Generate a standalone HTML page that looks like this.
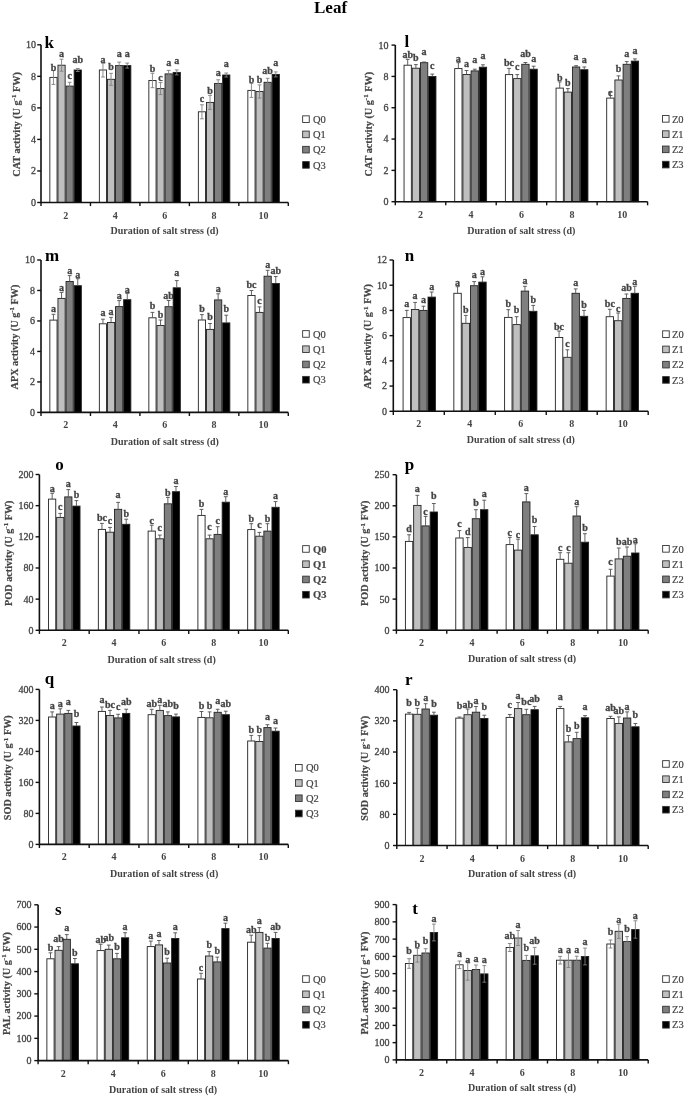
<!DOCTYPE html>
<html><head><meta charset="utf-8"><title>Leaf</title><style>
html,body{margin:0;padding:0;background:#fff;}
body{width:685px;height:1097px;overflow:hidden;}
svg{display:block;filter:grayscale(1);}
text{font-family:"Liberation Serif",serif;fill:#333;}
.sl{font-size:10px;font-weight:bold;text-anchor:middle;fill:#444;stroke:#444;stroke-width:0.3px;}
.yt{font-size:10px;text-anchor:end;fill:#444;stroke:#444;stroke-width:0.3px;}
.xt{font-size:10px;font-weight:bold;text-anchor:middle;fill:#444;}
.xl{font-size:10px;font-weight:bold;text-anchor:middle;fill:#444;}
.yl{font-size:10.2px;font-weight:bold;text-anchor:middle;fill:#444;stroke:#444;stroke-width:0.2px;}
.pl{font-size:17px;font-weight:bold;fill:#000;}
.lg{font-size:10.5px;fill:#444;stroke:#444;stroke-width:0.2px;}
.b{font-weight:bold;}
.title{font-size:17px;font-weight:bold;fill:#000;}
</style></head>
<body><svg width="685" height="1097" viewBox="0 0 685 1097">
<rect width="685" height="1097" fill="#fff"/>
<text x="314" y="13.2" class="title">Leaf</text>
<rect x="49.85" y="77.4" width="7.2" height="125.1" fill="#ffffff" stroke="#222" stroke-width="0.9"/>
<path d="M53.45 70.4V84.4M51.55 70.4H55.35" stroke="#808080" stroke-width="0.9" fill="none"/>
<path d="M51.55 84.4H55.35" stroke="#808080" stroke-width="0.9"/>
<text x="53.45" y="70.7" class="sl">b</text>
<rect x="57.95" y="65.2" width="7.2" height="137.3" fill="#bfbfbf" stroke="#222" stroke-width="0.9"/>
<path d="M61.55 59.2V71.2M59.65 59.2H63.45" stroke="#808080" stroke-width="0.9" fill="none"/>
<path d="M59.65 71.2H63.45" stroke="#808080" stroke-width="0.9"/>
<text x="61.55" y="57" class="sl">a</text>
<rect x="66.05" y="86.1" width="7.2" height="116.4" fill="#7f7f7f" stroke="#222" stroke-width="0.9"/>
<path d="M69.65 82.3V89.9M67.75 82.3H71.55" stroke="#808080" stroke-width="0.9" fill="none"/>
<path d="M67.75 89.9H71.55" stroke="#808080" stroke-width="0.9"/>
<text x="69.65" y="78.9" class="sl">c</text>
<rect x="74.15" y="70" width="7.2" height="132.5" fill="#000000" stroke="#222" stroke-width="0.9"/>
<path d="M77.75 68.5V71.5M75.85 68.5H79.65" stroke="#808080" stroke-width="0.9" fill="none"/>
<path d="M75.85 71.5H79.65" stroke="#808080" stroke-width="0.9"/>
<text x="77.75" y="62.6" class="sl">ab</text>
<rect x="99.35" y="70" width="7.2" height="132.5" fill="#ffffff" stroke="#222" stroke-width="0.9"/>
<path d="M102.95 63V77M101.05 63H104.85" stroke="#808080" stroke-width="0.9" fill="none"/>
<path d="M101.05 77H104.85" stroke="#808080" stroke-width="0.9"/>
<text x="102.95" y="62.6" class="sl">a</text>
<rect x="107.45" y="79.3" width="7.2" height="123.2" fill="#bfbfbf" stroke="#222" stroke-width="0.9"/>
<path d="M111.05 73.3V85.3M109.15 73.3H112.95" stroke="#808080" stroke-width="0.9" fill="none"/>
<path d="M109.15 85.3H112.95" stroke="#808080" stroke-width="0.9"/>
<text x="111.05" y="70.1" class="sl">b</text>
<rect x="115.55" y="65.6" width="7.2" height="136.9" fill="#7f7f7f" stroke="#222" stroke-width="0.9"/>
<path d="M119.15 62.1V69.1M117.25 62.1H121.05" stroke="#808080" stroke-width="0.9" fill="none"/>
<path d="M117.25 69.1H121.05" stroke="#808080" stroke-width="0.9"/>
<text x="119.15" y="57.4" class="sl">a</text>
<rect x="123.65" y="65.6" width="7.2" height="136.9" fill="#000000" stroke="#222" stroke-width="0.9"/>
<path d="M127.25 63.1V68.1M125.35 63.1H129.15" stroke="#808080" stroke-width="0.9" fill="none"/>
<path d="M125.35 68.1H129.15" stroke="#808080" stroke-width="0.9"/>
<text x="127.25" y="57" class="sl">a</text>
<rect x="148.85" y="80.5" width="7.2" height="122" fill="#ffffff" stroke="#222" stroke-width="0.9"/>
<path d="M152.45 73.3V87.7M150.55 73.3H154.35" stroke="#808080" stroke-width="0.9" fill="none"/>
<path d="M150.55 87.7H154.35" stroke="#808080" stroke-width="0.9"/>
<text x="152.45" y="72.1" class="sl">b</text>
<rect x="156.95" y="88.6" width="7.2" height="113.9" fill="#bfbfbf" stroke="#222" stroke-width="0.9"/>
<path d="M160.55 82.6V94.6M158.65 82.6H162.45" stroke="#808080" stroke-width="0.9" fill="none"/>
<path d="M158.65 94.6H162.45" stroke="#808080" stroke-width="0.9"/>
<text x="160.55" y="81.3" class="sl">c</text>
<rect x="165.05" y="73.9" width="7.2" height="128.6" fill="#7f7f7f" stroke="#222" stroke-width="0.9"/>
<path d="M168.65 70.4V77.4M166.75 70.4H170.55" stroke="#808080" stroke-width="0.9" fill="none"/>
<path d="M166.75 77.4H170.55" stroke="#808080" stroke-width="0.9"/>
<text x="168.65" y="66.3" class="sl">a</text>
<rect x="173.15" y="72.4" width="7.2" height="130.1" fill="#000000" stroke="#222" stroke-width="0.9"/>
<path d="M176.75 69.9V74.9M174.85 69.9H178.65" stroke="#808080" stroke-width="0.9" fill="none"/>
<path d="M174.85 74.9H178.65" stroke="#808080" stroke-width="0.9"/>
<text x="176.75" y="63.9" class="sl">a</text>
<rect x="198.35" y="111.8" width="7.2" height="90.7" fill="#ffffff" stroke="#222" stroke-width="0.9"/>
<path d="M201.95 104.8V118.8M200.05 104.8H203.85" stroke="#808080" stroke-width="0.9" fill="none"/>
<path d="M200.05 118.8H203.85" stroke="#808080" stroke-width="0.9"/>
<text x="201.95" y="102.1" class="sl">c</text>
<rect x="206.45" y="102.4" width="7.2" height="100.1" fill="#bfbfbf" stroke="#222" stroke-width="0.9"/>
<path d="M210.05 95.4V109.4M208.15 95.4H211.95" stroke="#808080" stroke-width="0.9" fill="none"/>
<path d="M208.15 109.4H211.95" stroke="#808080" stroke-width="0.9"/>
<text x="210.05" y="93.5" class="sl">b</text>
<rect x="214.55" y="83.4" width="7.2" height="119.1" fill="#7f7f7f" stroke="#222" stroke-width="0.9"/>
<path d="M218.15 79.8V87M216.25 79.8H220.05" stroke="#808080" stroke-width="0.9" fill="none"/>
<path d="M216.25 87H220.05" stroke="#808080" stroke-width="0.9"/>
<text x="218.15" y="76.2" class="sl">a</text>
<rect x="222.65" y="75" width="7.2" height="127.5" fill="#000000" stroke="#222" stroke-width="0.9"/>
<path d="M226.25 73V77M224.35 73H228.15" stroke="#808080" stroke-width="0.9" fill="none"/>
<path d="M224.35 77H228.15" stroke="#808080" stroke-width="0.9"/>
<text x="226.25" y="67.4" class="sl">a</text>
<rect x="247.85" y="90.4" width="7.2" height="112.1" fill="#ffffff" stroke="#222" stroke-width="0.9"/>
<path d="M251.45 83.4V97.4M249.55 83.4H253.35" stroke="#808080" stroke-width="0.9" fill="none"/>
<path d="M249.55 97.4H253.35" stroke="#808080" stroke-width="0.9"/>
<text x="251.45" y="82.7" class="sl">b</text>
<rect x="255.95" y="91.5" width="7.2" height="111" fill="#bfbfbf" stroke="#222" stroke-width="0.9"/>
<path d="M259.55 84.9V98.1M257.65 84.9H261.45" stroke="#808080" stroke-width="0.9" fill="none"/>
<path d="M257.65 98.1H261.45" stroke="#808080" stroke-width="0.9"/>
<text x="259.55" y="82.7" class="sl">b</text>
<rect x="264.05" y="82.3" width="7.2" height="120.2" fill="#7f7f7f" stroke="#222" stroke-width="0.9"/>
<path d="M267.65 78.3V86.3M265.75 78.3H269.55" stroke="#808080" stroke-width="0.9" fill="none"/>
<path d="M265.75 86.3H269.55" stroke="#808080" stroke-width="0.9"/>
<text x="267.65" y="74.1" class="sl">ab</text>
<rect x="272.15" y="74.4" width="7.2" height="128.1" fill="#000000" stroke="#222" stroke-width="0.9"/>
<path d="M275.75 71.9V76.9M273.85 71.9H277.65" stroke="#808080" stroke-width="0.9" fill="none"/>
<path d="M273.85 76.9H277.65" stroke="#808080" stroke-width="0.9"/>
<text x="275.75" y="65.9" class="sl">a</text>
<path d="M41 44.8V202.5H288.3" stroke="#111" stroke-width="1.6" fill="none"/>
<path d="M37.2 202.5H41" stroke="#111" stroke-width="1.4"/>
<text x="35.9" y="205.9" class="yt">0</text>
<path d="M37.2 170.96H41" stroke="#111" stroke-width="1.4"/>
<text x="35.9" y="174.36" class="yt">2</text>
<path d="M37.2 139.42H41" stroke="#111" stroke-width="1.4"/>
<text x="35.9" y="142.82" class="yt">4</text>
<path d="M37.2 107.88H41" stroke="#111" stroke-width="1.4"/>
<text x="35.9" y="111.28" class="yt">6</text>
<path d="M37.2 76.34H41" stroke="#111" stroke-width="1.4"/>
<text x="35.9" y="79.74" class="yt">8</text>
<path d="M37.2 44.8H41" stroke="#111" stroke-width="1.4"/>
<text x="35.9" y="48.2" class="yt">10</text>
<path d="M41 202.5V206.1" stroke="#111" stroke-width="1.4"/>
<path d="M90.46 202.5V206.1" stroke="#111" stroke-width="1.4"/>
<path d="M139.92 202.5V206.1" stroke="#111" stroke-width="1.4"/>
<path d="M189.38 202.5V206.1" stroke="#111" stroke-width="1.4"/>
<path d="M238.84 202.5V206.1" stroke="#111" stroke-width="1.4"/>
<path d="M288.3 202.5V206.1" stroke="#111" stroke-width="1.4"/>
<text x="65.73" y="218.5" class="xt">2</text>
<text x="115.19" y="218.5" class="xt">4</text>
<text x="164.65" y="218.5" class="xt">6</text>
<text x="214.11" y="218.5" class="xt">8</text>
<text x="263.57" y="218.5" class="xt">10</text>
<text x="164.55" y="233.6" class="xl">Duration of salt stress (d)</text>
<text transform="translate(19.9 124.45) rotate(-90)" class="yl">CAT activity (U g<tspan dy="-3.6" font-size="7">-1</tspan><tspan dy="3.5"> FW)</tspan></text>
<text x="44.6" y="48.3" class="pl">k</text>
<rect x="302.65" y="115.85" width="6.6" height="6.6" fill="#ffffff" stroke="#333" stroke-width="0.9"/>
<text x="313" y="122.8" class="lg">Q0</text>
<rect x="302.65" y="131.1" width="6.6" height="6.6" fill="#bfbfbf" stroke="#333" stroke-width="0.9"/>
<text x="313" y="138.05" class="lg">Q1</text>
<rect x="302.65" y="146.35" width="6.6" height="6.6" fill="#7f7f7f" stroke="#333" stroke-width="0.9"/>
<text x="313" y="153.3" class="lg">Q2</text>
<rect x="302.65" y="161.6" width="6.6" height="6.6" fill="#000000" stroke="#333" stroke-width="0.9"/>
<text x="313" y="168.55" class="lg">Q3</text>
<rect x="404.05" y="65.2" width="7.3" height="136.5" fill="#ffffff" stroke="#222" stroke-width="0.9"/>
<path d="M407.7 59.3V65.2M405.8 59.3H409.6" stroke="#505050" stroke-width="0.9" fill="none"/>
<text x="407.7" y="58.2" class="sl">ab</text>
<rect x="412.25" y="68.2" width="7.3" height="133.5" fill="#bfbfbf" stroke="#222" stroke-width="0.9"/>
<path d="M415.9 64.6V68.2M414 64.6H417.8" stroke="#505050" stroke-width="0.9" fill="none"/>
<text x="415.9" y="60.6" class="sl">b</text>
<rect x="420.45" y="62.7" width="7.3" height="139" fill="#7f7f7f" stroke="#222" stroke-width="0.9"/>
<path d="M424.1 62V62.7M422.2 62H426" stroke="#505050" stroke-width="0.9" fill="none"/>
<text x="424.1" y="55.4" class="sl">a</text>
<rect x="428.65" y="76.5" width="7.3" height="125.2" fill="#000000" stroke="#222" stroke-width="0.9"/>
<path d="M432.3 74.1V76.5M430.4 74.1H434.2" stroke="#505050" stroke-width="0.9" fill="none"/>
<text x="432.3" y="68.7" class="sl">c</text>
<rect x="454.71" y="68.6" width="7.3" height="133.1" fill="#ffffff" stroke="#222" stroke-width="0.9"/>
<path d="M458.36 62.7V68.6M456.46 62.7H460.26" stroke="#505050" stroke-width="0.9" fill="none"/>
<text x="458.36" y="61.7" class="sl">a</text>
<rect x="462.91" y="74.5" width="7.3" height="127.2" fill="#bfbfbf" stroke="#222" stroke-width="0.9"/>
<path d="M466.56 70.5V74.5M464.66 70.5H468.46" stroke="#505050" stroke-width="0.9" fill="none"/>
<text x="466.56" y="66.9" class="sl">a</text>
<rect x="471.11" y="70.9" width="7.3" height="130.8" fill="#7f7f7f" stroke="#222" stroke-width="0.9"/>
<path d="M474.76 69.2V70.9M472.86 69.2H476.66" stroke="#505050" stroke-width="0.9" fill="none"/>
<text x="474.76" y="62.9" class="sl">a</text>
<rect x="479.31" y="67.2" width="7.3" height="134.5" fill="#000000" stroke="#222" stroke-width="0.9"/>
<path d="M482.96 64.8V67.2M481.06 64.8H484.86" stroke="#505050" stroke-width="0.9" fill="none"/>
<text x="482.96" y="59.4" class="sl">a</text>
<rect x="505.38" y="74.6" width="7.3" height="127.1" fill="#ffffff" stroke="#222" stroke-width="0.9"/>
<path d="M509.03 68.4V74.6M507.13 68.4H510.93" stroke="#505050" stroke-width="0.9" fill="none"/>
<text x="509.03" y="66.2" class="sl">bc</text>
<rect x="513.58" y="78.6" width="7.3" height="123.1" fill="#bfbfbf" stroke="#222" stroke-width="0.9"/>
<path d="M517.23 74.6V78.6M515.33 74.6H519.13" stroke="#505050" stroke-width="0.9" fill="none"/>
<text x="517.23" y="70" class="sl">c</text>
<rect x="521.78" y="64.3" width="7.3" height="137.4" fill="#7f7f7f" stroke="#222" stroke-width="0.9"/>
<path d="M525.43 62.5V64.3M523.53 62.5H527.33" stroke="#505050" stroke-width="0.9" fill="none"/>
<text x="525.43" y="56.6" class="sl">ab</text>
<rect x="529.98" y="69.2" width="7.3" height="132.5" fill="#000000" stroke="#222" stroke-width="0.9"/>
<path d="M533.63 66.2V69.2M531.73 66.2H535.53" stroke="#505050" stroke-width="0.9" fill="none"/>
<text x="533.63" y="61.5" class="sl">a</text>
<rect x="556.04" y="88.1" width="7.3" height="113.6" fill="#ffffff" stroke="#222" stroke-width="0.9"/>
<path d="M559.69 81.9V88.1M557.79 81.9H561.59" stroke="#505050" stroke-width="0.9" fill="none"/>
<text x="559.69" y="80.6" class="sl">b</text>
<rect x="564.24" y="92.1" width="7.3" height="109.6" fill="#bfbfbf" stroke="#222" stroke-width="0.9"/>
<path d="M567.89 88.6V92.1M565.99 88.6H569.79" stroke="#505050" stroke-width="0.9" fill="none"/>
<text x="567.89" y="85.9" class="sl">b</text>
<rect x="572.44" y="67" width="7.3" height="134.7" fill="#7f7f7f" stroke="#222" stroke-width="0.9"/>
<path d="M576.09 65.7V67M574.19 65.7H577.99" stroke="#505050" stroke-width="0.9" fill="none"/>
<text x="576.09" y="59.8" class="sl">a</text>
<rect x="580.64" y="69.7" width="7.3" height="132" fill="#000000" stroke="#222" stroke-width="0.9"/>
<path d="M584.29 67V69.7M582.39 67H586.19" stroke="#505050" stroke-width="0.9" fill="none"/>
<text x="584.29" y="63" class="sl">a</text>
<rect x="606.7" y="98.1" width="7.3" height="103.6" fill="#ffffff" stroke="#222" stroke-width="0.9"/>
<path d="M610.35 92.1V98.1M608.45 92.1H612.25" stroke="#505050" stroke-width="0.9" fill="none"/>
<text x="610.35" y="95.5" class="sl">c</text>
<rect x="614.9" y="80" width="7.3" height="121.7" fill="#bfbfbf" stroke="#222" stroke-width="0.9"/>
<path d="M618.55 75.9V80M616.65 75.9H620.45" stroke="#505050" stroke-width="0.9" fill="none"/>
<text x="618.55" y="72.1" class="sl">b</text>
<rect x="623.1" y="64.3" width="7.3" height="137.4" fill="#7f7f7f" stroke="#222" stroke-width="0.9"/>
<path d="M626.75 61.6V64.3M624.85 61.6H628.65" stroke="#505050" stroke-width="0.9" fill="none"/>
<text x="626.75" y="56.6" class="sl">a</text>
<rect x="631.3" y="61.1" width="7.3" height="140.6" fill="#000000" stroke="#222" stroke-width="0.9"/>
<path d="M634.95 58.9V61.1M633.05 58.9H636.85" stroke="#505050" stroke-width="0.9" fill="none"/>
<text x="634.95" y="53.5" class="sl">a</text>
<path d="M395.3 45.1V201.7H647.6" stroke="#111" stroke-width="1.6" fill="none"/>
<path d="M391.5 201.7H395.3" stroke="#111" stroke-width="1.4"/>
<text x="388.4" y="205.1" class="yt">0</text>
<path d="M391.5 170.38H395.3" stroke="#111" stroke-width="1.4"/>
<text x="388.4" y="173.78" class="yt">2</text>
<path d="M391.5 139.06H395.3" stroke="#111" stroke-width="1.4"/>
<text x="388.4" y="142.46" class="yt">4</text>
<path d="M391.5 107.74H395.3" stroke="#111" stroke-width="1.4"/>
<text x="388.4" y="111.14" class="yt">6</text>
<path d="M391.5 76.42H395.3" stroke="#111" stroke-width="1.4"/>
<text x="388.4" y="79.82" class="yt">8</text>
<path d="M391.5 45.1H395.3" stroke="#111" stroke-width="1.4"/>
<text x="388.4" y="48.5" class="yt">10</text>
<path d="M395.3 201.7V205.3" stroke="#111" stroke-width="1.4"/>
<path d="M445.76 201.7V205.3" stroke="#111" stroke-width="1.4"/>
<path d="M496.22 201.7V205.3" stroke="#111" stroke-width="1.4"/>
<path d="M546.68 201.7V205.3" stroke="#111" stroke-width="1.4"/>
<path d="M597.14 201.7V205.3" stroke="#111" stroke-width="1.4"/>
<path d="M647.6 201.7V205.3" stroke="#111" stroke-width="1.4"/>
<text x="420.53" y="217.7" class="xt">2</text>
<text x="470.99" y="217.7" class="xt">4</text>
<text x="521.45" y="217.7" class="xt">6</text>
<text x="571.91" y="217.7" class="xt">8</text>
<text x="622.37" y="217.7" class="xt">10</text>
<text x="521.25" y="233.6" class="xl">Duration of salt stress (d)</text>
<text transform="translate(371.9 124.2) rotate(-90)" class="yl">CAT activity (U g<tspan dy="-3.6" font-size="7">-1</tspan><tspan dy="3.5"> FW)</tspan></text>
<text x="404.5" y="47.1" class="pl">l</text>
<rect x="662.45" y="115.55" width="6.6" height="6.6" fill="#ffffff" stroke="#333" stroke-width="0.9"/>
<text x="671.9" y="122.5" class="lg">Z0</text>
<rect x="662.45" y="130.8" width="6.6" height="6.6" fill="#bfbfbf" stroke="#333" stroke-width="0.9"/>
<text x="671.9" y="137.75" class="lg">Z1</text>
<rect x="662.45" y="146.05" width="6.6" height="6.6" fill="#7f7f7f" stroke="#333" stroke-width="0.9"/>
<text x="671.9" y="153" class="lg">Z2</text>
<rect x="662.45" y="161.3" width="6.6" height="6.6" fill="#000000" stroke="#333" stroke-width="0.9"/>
<text x="671.9" y="168.25" class="lg">Z3</text>
<rect x="49.85" y="320.1" width="7.2" height="92.3" fill="#ffffff" stroke="#222" stroke-width="0.9"/>
<path d="M53.45 314.3V320.1M51.55 314.3H55.35" stroke="#505050" stroke-width="0.9" fill="none"/>
<text x="53.45" y="311.9" class="sl">a</text>
<rect x="57.95" y="298.4" width="7.2" height="114" fill="#bfbfbf" stroke="#222" stroke-width="0.9"/>
<path d="M61.55 292.4V298.4M59.65 292.4H63.45" stroke="#505050" stroke-width="0.9" fill="none"/>
<text x="61.55" y="290.9" class="sl">a</text>
<rect x="66.05" y="281.5" width="7.2" height="130.9" fill="#7f7f7f" stroke="#222" stroke-width="0.9"/>
<path d="M69.65 275.6V281.5M67.75 275.6H71.55" stroke="#505050" stroke-width="0.9" fill="none"/>
<text x="69.65" y="273.9" class="sl">a</text>
<rect x="74.15" y="285.7" width="7.2" height="126.7" fill="#000000" stroke="#222" stroke-width="0.9"/>
<path d="M77.75 278.7V285.7M75.85 278.7H79.65" stroke="#505050" stroke-width="0.9" fill="none"/>
<text x="77.75" y="277.8" class="sl">a</text>
<rect x="99.35" y="323.8" width="7.2" height="88.6" fill="#ffffff" stroke="#222" stroke-width="0.9"/>
<path d="M102.95 319.2V323.8M101.05 319.2H104.85" stroke="#505050" stroke-width="0.9" fill="none"/>
<text x="102.95" y="316.3" class="sl">a</text>
<rect x="107.45" y="322.5" width="7.2" height="89.9" fill="#bfbfbf" stroke="#222" stroke-width="0.9"/>
<path d="M111.05 317.4V322.5M109.15 317.4H112.95" stroke="#505050" stroke-width="0.9" fill="none"/>
<text x="111.05" y="314.6" class="sl">a</text>
<rect x="115.55" y="306.6" width="7.2" height="105.8" fill="#7f7f7f" stroke="#222" stroke-width="0.9"/>
<path d="M119.15 300.6V306.6M117.25 300.6H121.05" stroke="#505050" stroke-width="0.9" fill="none"/>
<text x="119.15" y="298.8" class="sl">a</text>
<rect x="123.65" y="299.7" width="7.2" height="112.7" fill="#000000" stroke="#222" stroke-width="0.9"/>
<path d="M127.25 293.3V299.7M125.35 293.3H129.15" stroke="#505050" stroke-width="0.9" fill="none"/>
<text x="127.25" y="292.7" class="sl">a</text>
<rect x="148.85" y="317.8" width="7.2" height="94.6" fill="#ffffff" stroke="#222" stroke-width="0.9"/>
<path d="M152.45 312.4V317.8M150.55 312.4H154.35" stroke="#505050" stroke-width="0.9" fill="none"/>
<text x="152.45" y="309" class="sl">b</text>
<rect x="156.95" y="325.5" width="7.2" height="86.9" fill="#bfbfbf" stroke="#222" stroke-width="0.9"/>
<path d="M160.55 320V325.5M158.65 320H162.45" stroke="#505050" stroke-width="0.9" fill="none"/>
<text x="160.55" y="318.2" class="sl">b</text>
<rect x="165.05" y="306.7" width="7.2" height="105.7" fill="#7f7f7f" stroke="#222" stroke-width="0.9"/>
<path d="M168.65 300.5V306.7M166.75 300.5H170.55" stroke="#505050" stroke-width="0.9" fill="none"/>
<text x="168.65" y="298.8" class="sl">ab</text>
<rect x="173.15" y="287.8" width="7.2" height="124.6" fill="#000000" stroke="#222" stroke-width="0.9"/>
<path d="M176.75 280.6V287.8M174.85 280.6H178.65" stroke="#505050" stroke-width="0.9" fill="none"/>
<text x="176.75" y="275.9" class="sl">a</text>
<rect x="198.35" y="320" width="7.2" height="92.4" fill="#ffffff" stroke="#222" stroke-width="0.9"/>
<path d="M201.95 314.6V320M200.05 314.6H203.85" stroke="#505050" stroke-width="0.9" fill="none"/>
<text x="201.95" y="312.1" class="sl">b</text>
<rect x="206.45" y="329.4" width="7.2" height="83" fill="#bfbfbf" stroke="#222" stroke-width="0.9"/>
<path d="M210.05 323.5V329.4M208.15 323.5H211.95" stroke="#505050" stroke-width="0.9" fill="none"/>
<text x="210.05" y="320.2" class="sl">b</text>
<rect x="214.55" y="299.9" width="7.2" height="112.5" fill="#7f7f7f" stroke="#222" stroke-width="0.9"/>
<path d="M218.15 293.8V299.9M216.25 293.8H220.05" stroke="#505050" stroke-width="0.9" fill="none"/>
<text x="218.15" y="291.6" class="sl">a</text>
<rect x="222.65" y="322.9" width="7.2" height="89.5" fill="#000000" stroke="#222" stroke-width="0.9"/>
<path d="M226.25 315.2V322.9M224.35 315.2H228.15" stroke="#505050" stroke-width="0.9" fill="none"/>
<text x="226.25" y="312.1" class="sl">b</text>
<rect x="247.85" y="295.5" width="7.2" height="116.9" fill="#ffffff" stroke="#222" stroke-width="0.9"/>
<path d="M251.45 290.5V295.5M249.55 290.5H253.35" stroke="#505050" stroke-width="0.9" fill="none"/>
<text x="251.45" y="288.2" class="sl">bc</text>
<rect x="255.95" y="312.4" width="7.2" height="100" fill="#bfbfbf" stroke="#222" stroke-width="0.9"/>
<path d="M259.55 306.9V312.4M257.65 306.9H261.45" stroke="#505050" stroke-width="0.9" fill="none"/>
<text x="259.55" y="303.9" class="sl">c</text>
<rect x="264.05" y="276.2" width="7.2" height="136.2" fill="#7f7f7f" stroke="#222" stroke-width="0.9"/>
<path d="M267.65 270.3V276.2M265.75 270.3H269.55" stroke="#505050" stroke-width="0.9" fill="none"/>
<text x="267.65" y="268.1" class="sl">a</text>
<rect x="272.15" y="283.5" width="7.2" height="128.9" fill="#000000" stroke="#222" stroke-width="0.9"/>
<path d="M275.75 276.5V283.5M273.85 276.5H277.65" stroke="#505050" stroke-width="0.9" fill="none"/>
<text x="275.75" y="273.9" class="sl">ab</text>
<path d="M41 260V412.4H288.3" stroke="#111" stroke-width="1.6" fill="none"/>
<path d="M37.2 412.4H41" stroke="#111" stroke-width="1.4"/>
<text x="35.1" y="415.8" class="yt">0</text>
<path d="M37.2 381.92H41" stroke="#111" stroke-width="1.4"/>
<text x="35.1" y="385.32" class="yt">2</text>
<path d="M37.2 351.44H41" stroke="#111" stroke-width="1.4"/>
<text x="35.1" y="354.84" class="yt">4</text>
<path d="M37.2 320.96H41" stroke="#111" stroke-width="1.4"/>
<text x="35.1" y="324.36" class="yt">6</text>
<path d="M37.2 290.48H41" stroke="#111" stroke-width="1.4"/>
<text x="35.1" y="293.88" class="yt">8</text>
<path d="M37.2 260H41" stroke="#111" stroke-width="1.4"/>
<text x="35.1" y="263.4" class="yt">10</text>
<path d="M41 412.4V416" stroke="#111" stroke-width="1.4"/>
<path d="M90.46 412.4V416" stroke="#111" stroke-width="1.4"/>
<path d="M139.92 412.4V416" stroke="#111" stroke-width="1.4"/>
<path d="M189.38 412.4V416" stroke="#111" stroke-width="1.4"/>
<path d="M238.84 412.4V416" stroke="#111" stroke-width="1.4"/>
<path d="M288.3 412.4V416" stroke="#111" stroke-width="1.4"/>
<text x="65.73" y="428.4" class="xt">2</text>
<text x="115.19" y="428.4" class="xt">4</text>
<text x="164.65" y="428.4" class="xt">6</text>
<text x="214.11" y="428.4" class="xt">8</text>
<text x="263.57" y="428.4" class="xt">10</text>
<text x="164.8" y="444.6" class="xl">Duration of salt stress (d)</text>
<text transform="translate(17.7 337) rotate(-90)" class="yl">APX activity (U g<tspan dy="-3.6" font-size="7">-1</tspan><tspan dy="3.5"> FW)</tspan></text>
<text x="44.9" y="260.7" class="pl">m</text>
<rect x="302.65" y="330.65" width="6.6" height="6.6" fill="#ffffff" stroke="#333" stroke-width="0.9"/>
<text x="313" y="337.6" class="lg">Q0</text>
<rect x="302.65" y="345.9" width="6.6" height="6.6" fill="#bfbfbf" stroke="#333" stroke-width="0.9"/>
<text x="313" y="352.85" class="lg">Q1</text>
<rect x="302.65" y="361.15" width="6.6" height="6.6" fill="#7f7f7f" stroke="#333" stroke-width="0.9"/>
<text x="313" y="368.1" class="lg">Q2</text>
<rect x="302.65" y="376.4" width="6.6" height="6.6" fill="#000000" stroke="#333" stroke-width="0.9"/>
<text x="313" y="383.35" class="lg">Q3</text>
<rect x="403.08" y="317.6" width="7.41" height="93.7" fill="#ffffff" stroke="#222" stroke-width="0.9"/>
<path d="M406.78 310.4V317.6M404.88 310.4H408.68" stroke="#505050" stroke-width="0.9" fill="none"/>
<text x="406.78" y="306.7" class="sl">a</text>
<rect x="411.39" y="309.5" width="7.41" height="101.8" fill="#bfbfbf" stroke="#222" stroke-width="0.9"/>
<path d="M415.09 302.4V309.5M413.19 302.4H416.99" stroke="#505050" stroke-width="0.9" fill="none"/>
<text x="415.09" y="299.2" class="sl">a</text>
<rect x="419.7" y="310.4" width="7.41" height="100.9" fill="#7f7f7f" stroke="#222" stroke-width="0.9"/>
<path d="M423.4 306.2V310.4M421.5 306.2H425.3" stroke="#505050" stroke-width="0.9" fill="none"/>
<text x="423.4" y="302.7" class="sl">a</text>
<rect x="428.01" y="297.1" width="7.41" height="114.2" fill="#000000" stroke="#222" stroke-width="0.9"/>
<path d="M431.71 292V297.1M429.81 292H433.61" stroke="#505050" stroke-width="0.9" fill="none"/>
<text x="431.71" y="289.5" class="sl">a</text>
<rect x="453.84" y="293.3" width="7.41" height="118" fill="#ffffff" stroke="#222" stroke-width="0.9"/>
<path d="M457.55 286.7V293.3M455.65 286.7H459.45" stroke="#505050" stroke-width="0.9" fill="none"/>
<text x="457.55" y="285.7" class="sl">a</text>
<rect x="462.15" y="323.3" width="7.41" height="88" fill="#bfbfbf" stroke="#222" stroke-width="0.9"/>
<path d="M465.86 315.4V323.3M463.96 315.4H467.76" stroke="#505050" stroke-width="0.9" fill="none"/>
<text x="465.86" y="312.7" class="sl">b</text>
<rect x="470.46" y="285.7" width="7.41" height="125.6" fill="#7f7f7f" stroke="#222" stroke-width="0.9"/>
<path d="M474.17 281.6V285.7M472.27 281.6H476.07" stroke="#505050" stroke-width="0.9" fill="none"/>
<text x="474.17" y="278.1" class="sl">a</text>
<rect x="478.77" y="282.1" width="7.41" height="129.2" fill="#000000" stroke="#222" stroke-width="0.9"/>
<path d="M482.48 276.8V282.1M480.58 276.8H484.38" stroke="#505050" stroke-width="0.9" fill="none"/>
<text x="482.48" y="274.6" class="sl">a</text>
<rect x="504.6" y="317.4" width="7.41" height="93.9" fill="#ffffff" stroke="#222" stroke-width="0.9"/>
<path d="M508.31 309.7V317.4M506.41 309.7H510.21" stroke="#505050" stroke-width="0.9" fill="none"/>
<text x="508.31" y="307.3" class="sl">b</text>
<rect x="512.91" y="324.6" width="7.41" height="86.7" fill="#bfbfbf" stroke="#222" stroke-width="0.9"/>
<path d="M516.62 316.7V324.6M514.72 316.7H518.52" stroke="#505050" stroke-width="0.9" fill="none"/>
<text x="516.62" y="313.3" class="sl">b</text>
<rect x="521.23" y="291.1" width="7.41" height="120.2" fill="#7f7f7f" stroke="#222" stroke-width="0.9"/>
<path d="M524.93 286.3V291.1M523.03 286.3H526.83" stroke="#505050" stroke-width="0.9" fill="none"/>
<text x="524.93" y="283.6" class="sl">a</text>
<rect x="529.53" y="311.3" width="7.41" height="100" fill="#000000" stroke="#222" stroke-width="0.9"/>
<path d="M533.24 305.4V311.3M531.34 305.4H535.14" stroke="#505050" stroke-width="0.9" fill="none"/>
<text x="533.24" y="303.1" class="sl">b</text>
<rect x="555.37" y="337.5" width="7.41" height="73.8" fill="#ffffff" stroke="#222" stroke-width="0.9"/>
<path d="M559.07 331V337.5M557.17 331H560.97" stroke="#505050" stroke-width="0.9" fill="none"/>
<text x="559.07" y="329.6" class="sl">bc</text>
<rect x="563.68" y="357.3" width="7.41" height="54" fill="#bfbfbf" stroke="#222" stroke-width="0.9"/>
<path d="M567.38 349.8V357.3M565.48 349.8H569.28" stroke="#505050" stroke-width="0.9" fill="none"/>
<text x="567.38" y="346.5" class="sl">c</text>
<rect x="571.99" y="293.3" width="7.41" height="118" fill="#7f7f7f" stroke="#222" stroke-width="0.9"/>
<path d="M575.69 288.9V293.3M573.79 288.9H577.59" stroke="#505050" stroke-width="0.9" fill="none"/>
<text x="575.69" y="285.7" class="sl">a</text>
<rect x="580.3" y="316.3" width="7.41" height="95" fill="#000000" stroke="#222" stroke-width="0.9"/>
<path d="M584 310.4V316.3M582.1 310.4H585.9" stroke="#505050" stroke-width="0.9" fill="none"/>
<text x="584" y="308.4" class="sl">b</text>
<rect x="606.13" y="316.7" width="7.41" height="94.6" fill="#ffffff" stroke="#222" stroke-width="0.9"/>
<path d="M609.83 309.3V316.7M607.93 309.3H611.73" stroke="#505050" stroke-width="0.9" fill="none"/>
<text x="609.83" y="307.3" class="sl">bc</text>
<rect x="614.44" y="320.7" width="7.41" height="90.6" fill="#bfbfbf" stroke="#222" stroke-width="0.9"/>
<path d="M618.14 313V320.7M616.24 313H620.04" stroke="#505050" stroke-width="0.9" fill="none"/>
<text x="618.14" y="312" class="sl">c</text>
<rect x="622.75" y="298.4" width="7.41" height="112.9" fill="#7f7f7f" stroke="#222" stroke-width="0.9"/>
<path d="M626.45 294V298.4M624.55 294H628.35" stroke="#505050" stroke-width="0.9" fill="none"/>
<text x="626.45" y="290.8" class="sl">ab</text>
<rect x="631.06" y="293.3" width="7.41" height="118" fill="#000000" stroke="#222" stroke-width="0.9"/>
<path d="M634.76 286.3V293.3M632.86 286.3H636.66" stroke="#505050" stroke-width="0.9" fill="none"/>
<text x="634.76" y="284.5" class="sl">a</text>
<path d="M393.3 260V411.3H648.2" stroke="#111" stroke-width="1.6" fill="none"/>
<path d="M389.5 411.3H393.3" stroke="#111" stroke-width="1.4"/>
<text x="386.9" y="414.7" class="yt">0</text>
<path d="M389.5 386.08H393.3" stroke="#111" stroke-width="1.4"/>
<text x="386.9" y="389.48" class="yt">2</text>
<path d="M389.5 360.87H393.3" stroke="#111" stroke-width="1.4"/>
<text x="386.9" y="364.27" class="yt">4</text>
<path d="M389.5 335.65H393.3" stroke="#111" stroke-width="1.4"/>
<text x="386.9" y="339.05" class="yt">6</text>
<path d="M389.5 310.43H393.3" stroke="#111" stroke-width="1.4"/>
<text x="386.9" y="313.83" class="yt">8</text>
<path d="M389.5 285.22H393.3" stroke="#111" stroke-width="1.4"/>
<text x="386.9" y="288.62" class="yt">10</text>
<path d="M389.5 260H393.3" stroke="#111" stroke-width="1.4"/>
<text x="386.9" y="263.4" class="yt">12</text>
<path d="M393.3 411.3V414.9" stroke="#111" stroke-width="1.4"/>
<path d="M444.28 411.3V414.9" stroke="#111" stroke-width="1.4"/>
<path d="M495.26 411.3V414.9" stroke="#111" stroke-width="1.4"/>
<path d="M546.24 411.3V414.9" stroke="#111" stroke-width="1.4"/>
<path d="M597.22 411.3V414.9" stroke="#111" stroke-width="1.4"/>
<path d="M648.2 411.3V414.9" stroke="#111" stroke-width="1.4"/>
<text x="418.79" y="427.3" class="xt">2</text>
<text x="469.77" y="427.3" class="xt">4</text>
<text x="520.75" y="427.3" class="xt">6</text>
<text x="571.73" y="427.3" class="xt">8</text>
<text x="622.71" y="427.3" class="xt">10</text>
<text x="520.75" y="443.2" class="xl">Duration of salt stress (d)</text>
<text transform="translate(371.2 336.45) rotate(-90)" class="yl">APX activity (U g<tspan dy="-3.6" font-size="7">-1</tspan><tspan dy="3.5"> FW)</tspan></text>
<text x="404.7" y="261" class="pl">n</text>
<rect x="662.65" y="330.85" width="6.6" height="6.6" fill="#ffffff" stroke="#333" stroke-width="0.9"/>
<text x="672.1" y="337.8" class="lg">Z0</text>
<rect x="662.65" y="346.1" width="6.6" height="6.6" fill="#bfbfbf" stroke="#333" stroke-width="0.9"/>
<text x="672.1" y="353.05" class="lg">Z1</text>
<rect x="662.65" y="361.35" width="6.6" height="6.6" fill="#7f7f7f" stroke="#333" stroke-width="0.9"/>
<text x="672.1" y="368.3" class="lg">Z2</text>
<rect x="662.65" y="376.6" width="6.6" height="6.6" fill="#000000" stroke="#333" stroke-width="0.9"/>
<text x="672.1" y="383.55" class="lg">Z3</text>
<rect x="48.56" y="499.1" width="7.19" height="131.2" fill="#ffffff" stroke="#222" stroke-width="0.9"/>
<path d="M52.16 493.3V499.1M50.26 493.3H54.06" stroke="#505050" stroke-width="0.9" fill="none"/>
<text x="52.16" y="491.7" class="sl">a</text>
<rect x="56.65" y="517.4" width="7.19" height="112.9" fill="#bfbfbf" stroke="#222" stroke-width="0.9"/>
<path d="M60.25 513.4V517.4M58.35 513.4H62.15" stroke="#505050" stroke-width="0.9" fill="none"/>
<text x="60.25" y="509.5" class="sl">c</text>
<rect x="64.74" y="496.9" width="7.19" height="133.4" fill="#7f7f7f" stroke="#222" stroke-width="0.9"/>
<path d="M68.33 489.6V496.9M66.43 489.6H70.23" stroke="#505050" stroke-width="0.9" fill="none"/>
<text x="68.33" y="487.1" class="sl">a</text>
<rect x="72.83" y="506.1" width="7.19" height="124.2" fill="#000000" stroke="#222" stroke-width="0.9"/>
<path d="M76.42 500.6V506.1M74.52 500.6H78.32" stroke="#505050" stroke-width="0.9" fill="none"/>
<text x="76.42" y="497.6" class="sl">b</text>
<rect x="98.34" y="529.4" width="7.19" height="100.9" fill="#ffffff" stroke="#222" stroke-width="0.9"/>
<path d="M101.94 523.4V529.4M100.04 523.4H103.84" stroke="#505050" stroke-width="0.9" fill="none"/>
<text x="101.94" y="520.9" class="sl">bc</text>
<rect x="106.43" y="532.2" width="7.19" height="98.1" fill="#bfbfbf" stroke="#222" stroke-width="0.9"/>
<path d="M110.03 527.4V532.2M108.13 527.4H111.93" stroke="#505050" stroke-width="0.9" fill="none"/>
<text x="110.03" y="523.9" class="sl">c</text>
<rect x="114.52" y="509.3" width="7.19" height="121" fill="#7f7f7f" stroke="#222" stroke-width="0.9"/>
<path d="M118.11 502.4V509.3M116.21 502.4H120.01" stroke="#505050" stroke-width="0.9" fill="none"/>
<text x="118.11" y="498.1" class="sl">a</text>
<rect x="122.61" y="524.3" width="7.19" height="106" fill="#000000" stroke="#222" stroke-width="0.9"/>
<path d="M126.2 519.2V524.3M124.3 519.2H128.1" stroke="#505050" stroke-width="0.9" fill="none"/>
<text x="126.2" y="516.5" class="sl">b</text>
<rect x="148.12" y="531.1" width="7.19" height="99.2" fill="#ffffff" stroke="#222" stroke-width="0.9"/>
<path d="M151.72 525.2V531.1M149.82 525.2H153.62" stroke="#505050" stroke-width="0.9" fill="none"/>
<text x="151.72" y="524" class="sl">c</text>
<rect x="156.21" y="538.8" width="7.19" height="91.5" fill="#bfbfbf" stroke="#222" stroke-width="0.9"/>
<path d="M159.81 535.1V538.8M157.91 535.1H161.71" stroke="#505050" stroke-width="0.9" fill="none"/>
<text x="159.81" y="530.7" class="sl">c</text>
<rect x="164.3" y="503.8" width="7.19" height="126.5" fill="#7f7f7f" stroke="#222" stroke-width="0.9"/>
<path d="M167.89 497.4V503.8M165.99 497.4H169.79" stroke="#505050" stroke-width="0.9" fill="none"/>
<text x="167.89" y="496" class="sl">b</text>
<rect x="172.39" y="491.7" width="7.19" height="138.6" fill="#000000" stroke="#222" stroke-width="0.9"/>
<path d="M175.98 486.5V491.7M174.08 486.5H177.88" stroke="#505050" stroke-width="0.9" fill="none"/>
<text x="175.98" y="483.7" class="sl">a</text>
<rect x="197.9" y="515.4" width="7.19" height="114.9" fill="#ffffff" stroke="#222" stroke-width="0.9"/>
<path d="M201.5 509.4V515.4M199.6 509.4H203.4" stroke="#505050" stroke-width="0.9" fill="none"/>
<text x="201.5" y="507" class="sl">b</text>
<rect x="205.99" y="538.8" width="7.19" height="91.5" fill="#bfbfbf" stroke="#222" stroke-width="0.9"/>
<path d="M209.59 535.1V538.8M207.69 535.1H211.49" stroke="#505050" stroke-width="0.9" fill="none"/>
<text x="209.59" y="530.1" class="sl">c</text>
<rect x="214.08" y="534.4" width="7.19" height="95.9" fill="#7f7f7f" stroke="#222" stroke-width="0.9"/>
<path d="M217.67 526.7V534.4M215.77 526.7H219.57" stroke="#505050" stroke-width="0.9" fill="none"/>
<text x="217.67" y="524" class="sl">c</text>
<rect x="222.17" y="502.2" width="7.19" height="128.1" fill="#000000" stroke="#222" stroke-width="0.9"/>
<path d="M225.76 496.7V502.2M223.86 496.7H227.66" stroke="#505050" stroke-width="0.9" fill="none"/>
<text x="225.76" y="494.8" class="sl">a</text>
<rect x="247.68" y="529.6" width="7.19" height="100.7" fill="#ffffff" stroke="#222" stroke-width="0.9"/>
<path d="M251.28 523.7V529.6M249.38 523.7H253.18" stroke="#505050" stroke-width="0.9" fill="none"/>
<text x="251.28" y="521.5" class="sl">b</text>
<rect x="255.77" y="536.2" width="7.19" height="94.1" fill="#bfbfbf" stroke="#222" stroke-width="0.9"/>
<path d="M259.37 532.4V536.2M257.47 532.4H261.27" stroke="#505050" stroke-width="0.9" fill="none"/>
<text x="259.37" y="528.1" class="sl">c</text>
<rect x="263.86" y="531.1" width="7.19" height="99.2" fill="#7f7f7f" stroke="#222" stroke-width="0.9"/>
<path d="M267.45 523.7V531.1M265.55 523.7H269.35" stroke="#505050" stroke-width="0.9" fill="none"/>
<text x="267.45" y="521.5" class="sl">b</text>
<rect x="271.95" y="507.3" width="7.19" height="123" fill="#000000" stroke="#222" stroke-width="0.9"/>
<path d="M275.54 501.6V507.3M273.64 501.6H277.44" stroke="#505050" stroke-width="0.9" fill="none"/>
<text x="275.54" y="498.8" class="sl">a</text>
<path d="M39.4 474.5V630.3H288.3" stroke="#111" stroke-width="1.6" fill="none"/>
<path d="M35.6 630.3H39.4" stroke="#111" stroke-width="1.4"/>
<text x="33.5" y="633.7" class="yt">0</text>
<path d="M35.6 599.14H39.4" stroke="#111" stroke-width="1.4"/>
<text x="33.5" y="602.54" class="yt">40</text>
<path d="M35.6 567.98H39.4" stroke="#111" stroke-width="1.4"/>
<text x="33.5" y="571.38" class="yt">80</text>
<path d="M35.6 536.82H39.4" stroke="#111" stroke-width="1.4"/>
<text x="33.5" y="540.22" class="yt">120</text>
<path d="M35.6 505.66H39.4" stroke="#111" stroke-width="1.4"/>
<text x="33.5" y="509.06" class="yt">160</text>
<path d="M35.6 474.5H39.4" stroke="#111" stroke-width="1.4"/>
<text x="33.5" y="477.9" class="yt">200</text>
<path d="M39.4 630.3V633.9" stroke="#111" stroke-width="1.4"/>
<path d="M89.18 630.3V633.9" stroke="#111" stroke-width="1.4"/>
<path d="M138.96 630.3V633.9" stroke="#111" stroke-width="1.4"/>
<path d="M188.74 630.3V633.9" stroke="#111" stroke-width="1.4"/>
<path d="M238.52 630.3V633.9" stroke="#111" stroke-width="1.4"/>
<path d="M288.3 630.3V633.9" stroke="#111" stroke-width="1.4"/>
<text x="64.29" y="646.3" class="xt">2</text>
<text x="114.07" y="646.3" class="xt">4</text>
<text x="163.85" y="646.3" class="xt">6</text>
<text x="213.63" y="646.3" class="xt">8</text>
<text x="263.41" y="646.3" class="xt">10</text>
<text x="161.65" y="662.7" class="xl">Duration of salt stress (d)</text>
<text transform="translate(11.7 553.2) rotate(-90)" class="yl">POD activity (U g<tspan dy="-3.6" font-size="7">-1</tspan><tspan dy="3.5"> FW)</tspan></text>
<text x="55.2" y="469.7" class="pl">o</text>
<rect x="302.65" y="545.65" width="6.6" height="6.6" fill="#ffffff" stroke="#333" stroke-width="0.9"/>
<text x="313" y="552.6" class="lg b">Q0</text>
<rect x="302.65" y="560.9" width="6.6" height="6.6" fill="#bfbfbf" stroke="#333" stroke-width="0.9"/>
<text x="313" y="567.85" class="lg b">Q1</text>
<rect x="302.65" y="576.15" width="6.6" height="6.6" fill="#7f7f7f" stroke="#333" stroke-width="0.9"/>
<text x="313" y="583.1" class="lg b">Q2</text>
<rect x="302.65" y="591.4" width="6.6" height="6.6" fill="#000000" stroke="#333" stroke-width="0.9"/>
<text x="313" y="598.35" class="lg b">Q3</text>
<rect x="405.4" y="541.4" width="7.35" height="88.8" fill="#ffffff" stroke="#222" stroke-width="0.9"/>
<path d="M409.07 534.8V541.4M407.18 534.8H410.97" stroke="#505050" stroke-width="0.9" fill="none"/>
<text x="409.07" y="532.3" class="sl">d</text>
<rect x="413.65" y="505.4" width="7.35" height="124.8" fill="#bfbfbf" stroke="#222" stroke-width="0.9"/>
<path d="M417.32 495.3V505.4M415.43 495.3H419.22" stroke="#505050" stroke-width="0.9" fill="none"/>
<text x="417.32" y="492.4" class="sl">a</text>
<rect x="421.9" y="525.9" width="7.35" height="104.3" fill="#7f7f7f" stroke="#222" stroke-width="0.9"/>
<path d="M425.57 516.4V525.9M423.68 516.4H427.47" stroke="#505050" stroke-width="0.9" fill="none"/>
<text x="425.57" y="514.8" class="sl">c</text>
<rect x="430.15" y="512" width="7.35" height="118.2" fill="#000000" stroke="#222" stroke-width="0.9"/>
<path d="M433.82 503.5V512M431.93 503.5H435.72" stroke="#505050" stroke-width="0.9" fill="none"/>
<text x="433.82" y="499.4" class="sl">b</text>
<rect x="455.76" y="538" width="7.35" height="92.2" fill="#ffffff" stroke="#222" stroke-width="0.9"/>
<path d="M459.44 530.6V538M457.54 530.6H461.34" stroke="#505050" stroke-width="0.9" fill="none"/>
<text x="459.44" y="526.7" class="sl">c</text>
<rect x="464.01" y="547.5" width="7.35" height="82.7" fill="#bfbfbf" stroke="#222" stroke-width="0.9"/>
<path d="M467.69 537.6V547.5M465.79 537.6H469.59" stroke="#505050" stroke-width="0.9" fill="none"/>
<text x="467.69" y="534.9" class="sl">d</text>
<rect x="472.26" y="518.7" width="7.35" height="111.5" fill="#7f7f7f" stroke="#222" stroke-width="0.9"/>
<path d="M475.94 509.7V518.7M474.04 509.7H477.84" stroke="#505050" stroke-width="0.9" fill="none"/>
<text x="475.94" y="506" class="sl">b</text>
<rect x="480.51" y="509.7" width="7.35" height="120.5" fill="#000000" stroke="#222" stroke-width="0.9"/>
<path d="M484.19 500.2V509.7M482.29 500.2H486.09" stroke="#505050" stroke-width="0.9" fill="none"/>
<text x="484.19" y="497.3" class="sl">a</text>
<rect x="506.12" y="544.6" width="7.35" height="85.6" fill="#ffffff" stroke="#222" stroke-width="0.9"/>
<path d="M509.8 537.4V544.6M507.9 537.4H511.7" stroke="#505050" stroke-width="0.9" fill="none"/>
<text x="509.8" y="535.8" class="sl">c</text>
<rect x="514.38" y="550.1" width="7.35" height="80.1" fill="#bfbfbf" stroke="#222" stroke-width="0.9"/>
<path d="M518.05 539.2V550.1M516.15 539.2H519.95" stroke="#505050" stroke-width="0.9" fill="none"/>
<text x="518.05" y="537.5" class="sl">c</text>
<rect x="522.62" y="501.9" width="7.35" height="128.3" fill="#7f7f7f" stroke="#222" stroke-width="0.9"/>
<path d="M526.3 493.6V501.9M524.4 493.6H528.2" stroke="#505050" stroke-width="0.9" fill="none"/>
<text x="526.3" y="491.4" class="sl">a</text>
<rect x="530.88" y="534.8" width="7.35" height="95.4" fill="#000000" stroke="#222" stroke-width="0.9"/>
<path d="M534.55 526.5V534.8M532.65 526.5H536.45" stroke="#505050" stroke-width="0.9" fill="none"/>
<text x="534.55" y="523.1" class="sl">b</text>
<rect x="556.49" y="559.3" width="7.35" height="70.9" fill="#ffffff" stroke="#222" stroke-width="0.9"/>
<path d="M560.16 552.7V559.3M558.26 552.7H562.06" stroke="#505050" stroke-width="0.9" fill="none"/>
<text x="560.16" y="550.6" class="sl">c</text>
<rect x="564.74" y="563.2" width="7.35" height="67" fill="#bfbfbf" stroke="#222" stroke-width="0.9"/>
<path d="M568.41 552.7V563.2M566.51 552.7H570.31" stroke="#505050" stroke-width="0.9" fill="none"/>
<text x="568.41" y="551" class="sl">c</text>
<rect x="572.99" y="516" width="7.35" height="114.2" fill="#7f7f7f" stroke="#222" stroke-width="0.9"/>
<path d="M576.66 506.7V516M574.76 506.7H578.56" stroke="#505050" stroke-width="0.9" fill="none"/>
<text x="576.66" y="505.1" class="sl">a</text>
<rect x="581.24" y="542.2" width="7.35" height="88" fill="#000000" stroke="#222" stroke-width="0.9"/>
<path d="M584.91 533.7V542.2M583.01 533.7H586.81" stroke="#505050" stroke-width="0.9" fill="none"/>
<text x="584.91" y="530.5" class="sl">b</text>
<rect x="606.85" y="576.1" width="7.35" height="54.1" fill="#ffffff" stroke="#222" stroke-width="0.9"/>
<path d="M610.52 569.3V576.1M608.62 569.3H612.42" stroke="#505050" stroke-width="0.9" fill="none"/>
<text x="610.52" y="565.4" class="sl">c</text>
<rect x="615.1" y="558.9" width="7.35" height="71.3" fill="#bfbfbf" stroke="#222" stroke-width="0.9"/>
<path d="M618.77 548V558.9M616.88 548H620.67" stroke="#505050" stroke-width="0.9" fill="none"/>
<text x="618.77" y="545.3" class="sl">b</text>
<rect x="623.35" y="556.2" width="7.35" height="74" fill="#7f7f7f" stroke="#222" stroke-width="0.9"/>
<path d="M627.02 547V556.2M625.12 547H628.92" stroke="#505050" stroke-width="0.9" fill="none"/>
<text x="627.02" y="544.7" class="sl">ab</text>
<rect x="631.6" y="553" width="7.35" height="77.2" fill="#000000" stroke="#222" stroke-width="0.9"/>
<path d="M635.27 543.8V553M633.38 543.8H637.17" stroke="#505050" stroke-width="0.9" fill="none"/>
<text x="635.27" y="542.6" class="sl">a</text>
<path d="M396.4 474.7V630.2H648.2" stroke="#111" stroke-width="1.6" fill="none"/>
<path d="M392.6 630.2H396.4" stroke="#111" stroke-width="1.4"/>
<text x="389.5" y="633.6" class="yt">0</text>
<path d="M392.6 599.1H396.4" stroke="#111" stroke-width="1.4"/>
<text x="389.5" y="602.5" class="yt">50</text>
<path d="M392.6 568H396.4" stroke="#111" stroke-width="1.4"/>
<text x="389.5" y="571.4" class="yt">100</text>
<path d="M392.6 536.9H396.4" stroke="#111" stroke-width="1.4"/>
<text x="389.5" y="540.3" class="yt">150</text>
<path d="M392.6 505.8H396.4" stroke="#111" stroke-width="1.4"/>
<text x="389.5" y="509.2" class="yt">200</text>
<path d="M392.6 474.7H396.4" stroke="#111" stroke-width="1.4"/>
<text x="389.5" y="478.1" class="yt">250</text>
<path d="M396.4 630.2V633.8" stroke="#111" stroke-width="1.4"/>
<path d="M446.76 630.2V633.8" stroke="#111" stroke-width="1.4"/>
<path d="M497.12 630.2V633.8" stroke="#111" stroke-width="1.4"/>
<path d="M547.48 630.2V633.8" stroke="#111" stroke-width="1.4"/>
<path d="M597.84 630.2V633.8" stroke="#111" stroke-width="1.4"/>
<path d="M648.2 630.2V633.8" stroke="#111" stroke-width="1.4"/>
<text x="421.58" y="646.2" class="xt">2</text>
<text x="471.94" y="646.2" class="xt">4</text>
<text x="522.3" y="646.2" class="xt">6</text>
<text x="572.66" y="646.2" class="xt">8</text>
<text x="623.02" y="646.2" class="xt">10</text>
<text x="522" y="662.3" class="xl">Duration of salt stress (d)</text>
<text transform="translate(368.2 553.25) rotate(-90)" class="yl">POD activity (U g<tspan dy="-3.6" font-size="7">-1</tspan><tspan dy="3.5"> FW)</tspan></text>
<text x="404.7" y="469.5" class="pl">p</text>
<rect x="662.65" y="545.55" width="6.6" height="6.6" fill="#ffffff" stroke="#333" stroke-width="0.9"/>
<text x="672.1" y="552.5" class="lg">Z0</text>
<rect x="662.65" y="560.8" width="6.6" height="6.6" fill="#bfbfbf" stroke="#333" stroke-width="0.9"/>
<text x="672.1" y="567.75" class="lg">Z1</text>
<rect x="662.65" y="576.05" width="6.6" height="6.6" fill="#7f7f7f" stroke="#333" stroke-width="0.9"/>
<text x="672.1" y="583" class="lg">Z2</text>
<rect x="662.65" y="591.3" width="6.6" height="6.6" fill="#000000" stroke="#333" stroke-width="0.9"/>
<text x="672.1" y="598.25" class="lg">Z3</text>
<rect x="48.56" y="717" width="7.19" height="127.4" fill="#ffffff" stroke="#222" stroke-width="0.9"/>
<path d="M52.16 711.9V717M50.26 711.9H54.06" stroke="#505050" stroke-width="0.9" fill="none"/>
<text x="52.16" y="709.3" class="sl">a</text>
<rect x="56.65" y="714.1" width="7.19" height="130.3" fill="#bfbfbf" stroke="#222" stroke-width="0.9"/>
<path d="M60.25 708.8V714.1M58.35 708.8H62.15" stroke="#505050" stroke-width="0.9" fill="none"/>
<text x="60.25" y="706.6" class="sl">a</text>
<rect x="64.74" y="713.4" width="7.19" height="131" fill="#7f7f7f" stroke="#222" stroke-width="0.9"/>
<path d="M68.33 710.4V713.4M66.43 710.4H70.23" stroke="#505050" stroke-width="0.9" fill="none"/>
<text x="68.33" y="704.9" class="sl">a</text>
<rect x="72.83" y="726" width="7.19" height="118.4" fill="#000000" stroke="#222" stroke-width="0.9"/>
<path d="M76.42 722.5V726M74.52 722.5H78.32" stroke="#505050" stroke-width="0.9" fill="none"/>
<text x="76.42" y="717.2" class="sl">b</text>
<rect x="98.34" y="711.4" width="7.19" height="133" fill="#ffffff" stroke="#222" stroke-width="0.9"/>
<path d="M101.94 707V711.4M100.04 707H103.84" stroke="#505050" stroke-width="0.9" fill="none"/>
<text x="101.94" y="703.1" class="sl">a</text>
<rect x="106.43" y="715.5" width="7.19" height="128.9" fill="#bfbfbf" stroke="#222" stroke-width="0.9"/>
<path d="M110.03 710.4V715.5M108.13 710.4H111.93" stroke="#505050" stroke-width="0.9" fill="none"/>
<text x="110.03" y="708.4" class="sl">bc</text>
<rect x="114.52" y="717.9" width="7.19" height="126.5" fill="#7f7f7f" stroke="#222" stroke-width="0.9"/>
<path d="M118.11 714.3V717.9M116.21 714.3H120.01" stroke="#505050" stroke-width="0.9" fill="none"/>
<text x="118.11" y="709.6" class="sl">c</text>
<rect x="122.61" y="713.4" width="7.19" height="131" fill="#000000" stroke="#222" stroke-width="0.9"/>
<path d="M126.2 709.2V713.4M124.3 709.2H128.1" stroke="#505050" stroke-width="0.9" fill="none"/>
<text x="126.2" y="704.9" class="sl">ab</text>
<rect x="148.12" y="714.7" width="7.19" height="129.7" fill="#ffffff" stroke="#222" stroke-width="0.9"/>
<path d="M151.72 709.3V714.7M149.82 709.3H153.62" stroke="#505050" stroke-width="0.9" fill="none"/>
<text x="151.72" y="707.4" class="sl">ab</text>
<rect x="156.21" y="710.4" width="7.19" height="134" fill="#bfbfbf" stroke="#222" stroke-width="0.9"/>
<path d="M159.81 705.3V710.4M157.91 705.3H161.71" stroke="#505050" stroke-width="0.9" fill="none"/>
<text x="159.81" y="702.7" class="sl">a</text>
<rect x="164.3" y="715.6" width="7.19" height="128.8" fill="#7f7f7f" stroke="#222" stroke-width="0.9"/>
<path d="M167.89 711.9V715.6M165.99 711.9H169.79" stroke="#505050" stroke-width="0.9" fill="none"/>
<text x="167.89" y="707.4" class="sl">ab</text>
<rect x="172.39" y="716.9" width="7.19" height="127.5" fill="#000000" stroke="#222" stroke-width="0.9"/>
<path d="M175.98 714.1V716.9M174.08 714.1H177.88" stroke="#505050" stroke-width="0.9" fill="none"/>
<text x="175.98" y="708.8" class="sl">b</text>
<rect x="197.9" y="717.4" width="7.19" height="127" fill="#ffffff" stroke="#222" stroke-width="0.9"/>
<path d="M201.5 711.5V717.4M199.6 711.5H203.4" stroke="#505050" stroke-width="0.9" fill="none"/>
<text x="201.5" y="708.8" class="sl">b</text>
<rect x="205.99" y="717.8" width="7.19" height="126.6" fill="#bfbfbf" stroke="#222" stroke-width="0.9"/>
<path d="M209.59 711.9V717.8M207.69 711.9H211.49" stroke="#505050" stroke-width="0.9" fill="none"/>
<text x="209.59" y="709.4" class="sl">b</text>
<rect x="214.08" y="712.3" width="7.19" height="132.1" fill="#7f7f7f" stroke="#222" stroke-width="0.9"/>
<path d="M217.67 709.3V712.3M215.77 709.3H219.57" stroke="#505050" stroke-width="0.9" fill="none"/>
<text x="217.67" y="703.9" class="sl">a</text>
<rect x="222.17" y="714.7" width="7.19" height="129.7" fill="#000000" stroke="#222" stroke-width="0.9"/>
<path d="M225.76 711.2V714.7M223.86 711.2H227.66" stroke="#505050" stroke-width="0.9" fill="none"/>
<text x="225.76" y="706.8" class="sl">ab</text>
<rect x="247.68" y="741" width="7.19" height="103.4" fill="#ffffff" stroke="#222" stroke-width="0.9"/>
<path d="M251.28 735.4V741M249.38 735.4H253.18" stroke="#505050" stroke-width="0.9" fill="none"/>
<text x="251.28" y="732.9" class="sl">b</text>
<rect x="255.77" y="741.5" width="7.19" height="102.9" fill="#bfbfbf" stroke="#222" stroke-width="0.9"/>
<path d="M259.37 735.6V741.5M257.47 735.6H261.27" stroke="#505050" stroke-width="0.9" fill="none"/>
<text x="259.37" y="732.9" class="sl">b</text>
<rect x="263.86" y="727.6" width="7.19" height="116.8" fill="#7f7f7f" stroke="#222" stroke-width="0.9"/>
<path d="M267.45 724.7V727.6M265.55 724.7H269.35" stroke="#505050" stroke-width="0.9" fill="none"/>
<text x="267.45" y="720.2" class="sl">a</text>
<rect x="271.95" y="731.2" width="7.19" height="113.2" fill="#000000" stroke="#222" stroke-width="0.9"/>
<path d="M275.54 728V731.2M273.64 728H277.44" stroke="#505050" stroke-width="0.9" fill="none"/>
<text x="275.54" y="723.7" class="sl">a</text>
<path d="M39.4 689.4V844.4H288.3" stroke="#111" stroke-width="1.6" fill="none"/>
<path d="M35.6 844.4H39.4" stroke="#111" stroke-width="1.4"/>
<text x="33.5" y="847.8" class="yt">0</text>
<path d="M35.6 813.4H39.4" stroke="#111" stroke-width="1.4"/>
<text x="33.5" y="816.8" class="yt">80</text>
<path d="M35.6 782.4H39.4" stroke="#111" stroke-width="1.4"/>
<text x="33.5" y="785.8" class="yt">160</text>
<path d="M35.6 751.4H39.4" stroke="#111" stroke-width="1.4"/>
<text x="33.5" y="754.8" class="yt">240</text>
<path d="M35.6 720.4H39.4" stroke="#111" stroke-width="1.4"/>
<text x="33.5" y="723.8" class="yt">320</text>
<path d="M35.6 689.4H39.4" stroke="#111" stroke-width="1.4"/>
<text x="33.5" y="692.8" class="yt">400</text>
<path d="M39.4 844.4V848" stroke="#111" stroke-width="1.4"/>
<path d="M89.18 844.4V848" stroke="#111" stroke-width="1.4"/>
<path d="M138.96 844.4V848" stroke="#111" stroke-width="1.4"/>
<path d="M188.74 844.4V848" stroke="#111" stroke-width="1.4"/>
<path d="M238.52 844.4V848" stroke="#111" stroke-width="1.4"/>
<path d="M288.3 844.4V848" stroke="#111" stroke-width="1.4"/>
<text x="64.29" y="860.4" class="xt">2</text>
<text x="114.07" y="860.4" class="xt">4</text>
<text x="163.85" y="860.4" class="xt">6</text>
<text x="213.63" y="860.4" class="xt">8</text>
<text x="263.41" y="860.4" class="xt">10</text>
<text x="164.15" y="876.7" class="xl">Duration of salt stress (d)</text>
<text transform="translate(11.2 767.7) rotate(-90)" class="yl">SOD activity (U g<tspan dy="-3.6" font-size="7">-1</tspan><tspan dy="3.5"> FW)</tspan></text>
<text x="44.7" y="684" class="pl">q</text>
<rect x="295.55" y="764.45" width="6.6" height="6.6" fill="#ffffff" stroke="#333" stroke-width="0.9"/>
<text x="305.9" y="771.4" class="lg">Q0</text>
<rect x="295.55" y="779.7" width="6.6" height="6.6" fill="#bfbfbf" stroke="#333" stroke-width="0.9"/>
<text x="305.9" y="786.65" class="lg">Q1</text>
<rect x="295.55" y="794.95" width="6.6" height="6.6" fill="#7f7f7f" stroke="#333" stroke-width="0.9"/>
<text x="305.9" y="801.9" class="lg">Q2</text>
<rect x="295.55" y="810.2" width="6.6" height="6.6" fill="#000000" stroke="#333" stroke-width="0.9"/>
<text x="305.9" y="817.15" class="lg">Q3</text>
<rect x="405.39" y="714.1" width="7.38" height="131.4" fill="#ffffff" stroke="#222" stroke-width="0.9"/>
<path d="M409.08 712.4V714.1M407.18 712.4H410.98" stroke="#505050" stroke-width="0.9" fill="none"/>
<text x="409.08" y="706.1" class="sl">b</text>
<rect x="413.67" y="714.3" width="7.38" height="131.2" fill="#bfbfbf" stroke="#222" stroke-width="0.9"/>
<path d="M417.36 708.4V714.3M415.46 708.4H419.26" stroke="#505050" stroke-width="0.9" fill="none"/>
<text x="417.36" y="706.1" class="sl">b</text>
<rect x="421.95" y="709" width="7.38" height="136.5" fill="#7f7f7f" stroke="#222" stroke-width="0.9"/>
<path d="M425.64 703.7V709M423.74 703.7H427.54" stroke="#505050" stroke-width="0.9" fill="none"/>
<text x="425.64" y="700.5" class="sl">a</text>
<rect x="430.23" y="715.2" width="7.38" height="130.3" fill="#000000" stroke="#222" stroke-width="0.9"/>
<path d="M433.92 712.2V715.2M432.02 712.2H435.82" stroke="#505050" stroke-width="0.9" fill="none"/>
<text x="433.92" y="706.6" class="sl">b</text>
<rect x="455.75" y="718.1" width="7.38" height="127.4" fill="#ffffff" stroke="#222" stroke-width="0.9"/>
<path d="M459.44 717V718.1M457.54 717H461.34" stroke="#505050" stroke-width="0.9" fill="none"/>
<text x="459.44" y="709.3" class="sl">b</text>
<rect x="464.03" y="714.7" width="7.38" height="130.8" fill="#bfbfbf" stroke="#222" stroke-width="0.9"/>
<path d="M467.72 709V714.7M465.82 709H469.62" stroke="#505050" stroke-width="0.9" fill="none"/>
<text x="467.72" y="707.5" class="sl">ab</text>
<rect x="472.31" y="712.2" width="7.38" height="133.3" fill="#7f7f7f" stroke="#222" stroke-width="0.9"/>
<path d="M476 706.5V712.2M474.1 706.5H477.9" stroke="#505050" stroke-width="0.9" fill="none"/>
<text x="476" y="704" class="sl">a</text>
<rect x="480.59" y="718.5" width="7.38" height="127" fill="#000000" stroke="#222" stroke-width="0.9"/>
<path d="M484.28 715.2V718.5M482.38 715.2H486.18" stroke="#505050" stroke-width="0.9" fill="none"/>
<text x="484.28" y="709.6" class="sl">b</text>
<rect x="506.12" y="717.4" width="7.38" height="128.1" fill="#ffffff" stroke="#222" stroke-width="0.9"/>
<path d="M509.81 714.5V717.4M507.91 714.5H511.7" stroke="#505050" stroke-width="0.9" fill="none"/>
<text x="509.81" y="708" class="sl">c</text>
<rect x="514.4" y="708.6" width="7.38" height="136.9" fill="#bfbfbf" stroke="#222" stroke-width="0.9"/>
<path d="M518.09 702.5V708.6M516.19 702.5H519.99" stroke="#505050" stroke-width="0.9" fill="none"/>
<text x="518.09" y="698.9" class="sl">a</text>
<rect x="522.68" y="714.7" width="7.38" height="130.8" fill="#7f7f7f" stroke="#222" stroke-width="0.9"/>
<path d="M526.37 709.3V714.7M524.47 709.3H528.26" stroke="#505050" stroke-width="0.9" fill="none"/>
<text x="526.37" y="705.2" class="sl">bc</text>
<rect x="530.96" y="709.7" width="7.38" height="135.8" fill="#000000" stroke="#222" stroke-width="0.9"/>
<path d="M534.64 706.4V709.7M532.75 706.4H536.54" stroke="#505050" stroke-width="0.9" fill="none"/>
<text x="534.64" y="701.6" class="sl">ab</text>
<rect x="556.48" y="708.6" width="7.38" height="136.9" fill="#ffffff" stroke="#222" stroke-width="0.9"/>
<path d="M560.17 706.4V708.6M558.27 706.4H562.07" stroke="#505050" stroke-width="0.9" fill="none"/>
<text x="560.17" y="699.5" class="sl">a</text>
<rect x="564.76" y="741.9" width="7.38" height="103.6" fill="#bfbfbf" stroke="#222" stroke-width="0.9"/>
<path d="M568.45 735.5V741.9M566.55 735.5H570.35" stroke="#505050" stroke-width="0.9" fill="none"/>
<text x="568.45" y="731.9" class="sl">b</text>
<rect x="573.04" y="738.6" width="7.38" height="106.9" fill="#7f7f7f" stroke="#222" stroke-width="0.9"/>
<path d="M576.73 732.3V738.6M574.83 732.3H578.63" stroke="#505050" stroke-width="0.9" fill="none"/>
<text x="576.73" y="729.2" class="sl">b</text>
<rect x="581.32" y="717.8" width="7.38" height="127.7" fill="#000000" stroke="#222" stroke-width="0.9"/>
<path d="M585.01 715.6V717.8M583.11 715.6H586.91" stroke="#505050" stroke-width="0.9" fill="none"/>
<text x="585.01" y="710.1" class="sl">a</text>
<rect x="606.84" y="718.5" width="7.38" height="127" fill="#ffffff" stroke="#222" stroke-width="0.9"/>
<path d="M610.53 716.3V718.5M608.63 716.3H612.43" stroke="#505050" stroke-width="0.9" fill="none"/>
<text x="610.53" y="710.7" class="sl">ab</text>
<rect x="615.12" y="723.5" width="7.38" height="122" fill="#bfbfbf" stroke="#222" stroke-width="0.9"/>
<path d="M618.81 716.9V723.5M616.91 716.9H620.71" stroke="#505050" stroke-width="0.9" fill="none"/>
<text x="618.81" y="713.7" class="sl">ab</text>
<rect x="623.4" y="718" width="7.38" height="127.5" fill="#7f7f7f" stroke="#222" stroke-width="0.9"/>
<path d="M627.09 711.9V718M625.19 711.9H628.99" stroke="#505050" stroke-width="0.9" fill="none"/>
<text x="627.09" y="709.5" class="sl">a</text>
<rect x="631.68" y="726.8" width="7.38" height="118.7" fill="#000000" stroke="#222" stroke-width="0.9"/>
<path d="M635.37 723.5V726.8M633.47 723.5H637.27" stroke="#505050" stroke-width="0.9" fill="none"/>
<text x="635.37" y="717.5" class="sl">b</text>
<path d="M396.8 689.7V845.5H648.2" stroke="#111" stroke-width="1.6" fill="none"/>
<path d="M393 845.5H396.8" stroke="#111" stroke-width="1.4"/>
<text x="389.5" y="848.9" class="yt">0</text>
<path d="M393 814.34H396.8" stroke="#111" stroke-width="1.4"/>
<text x="389.5" y="817.74" class="yt">80</text>
<path d="M393 783.18H396.8" stroke="#111" stroke-width="1.4"/>
<text x="389.5" y="786.58" class="yt">160</text>
<path d="M393 752.02H396.8" stroke="#111" stroke-width="1.4"/>
<text x="389.5" y="755.42" class="yt">240</text>
<path d="M393 720.86H396.8" stroke="#111" stroke-width="1.4"/>
<text x="389.5" y="724.26" class="yt">320</text>
<path d="M393 689.7H396.8" stroke="#111" stroke-width="1.4"/>
<text x="389.5" y="693.1" class="yt">400</text>
<path d="M396.8 845.5V849.1" stroke="#111" stroke-width="1.4"/>
<path d="M447.08 845.5V849.1" stroke="#111" stroke-width="1.4"/>
<path d="M497.36 845.5V849.1" stroke="#111" stroke-width="1.4"/>
<path d="M547.64 845.5V849.1" stroke="#111" stroke-width="1.4"/>
<path d="M597.92 845.5V849.1" stroke="#111" stroke-width="1.4"/>
<path d="M648.2 845.5V849.1" stroke="#111" stroke-width="1.4"/>
<text x="421.94" y="861.5" class="xt">2</text>
<text x="472.22" y="861.5" class="xt">4</text>
<text x="522.5" y="861.5" class="xt">6</text>
<text x="572.78" y="861.5" class="xt">8</text>
<text x="623.06" y="861.5" class="xt">10</text>
<text x="522" y="877.3" class="xl">Duration of salt stress (d)</text>
<text transform="translate(368.2 768.4) rotate(-90)" class="yl">SOD activity (U g<tspan dy="-3.6" font-size="7">-1</tspan><tspan dy="3.5"> FW)</tspan></text>
<text x="404.9" y="684.8" class="pl">r</text>
<rect x="662.65" y="760.65" width="6.6" height="6.6" fill="#ffffff" stroke="#333" stroke-width="0.9"/>
<text x="672.1" y="767.6" class="lg">Z0</text>
<rect x="662.65" y="775.9" width="6.6" height="6.6" fill="#bfbfbf" stroke="#333" stroke-width="0.9"/>
<text x="672.1" y="782.85" class="lg">Z1</text>
<rect x="662.65" y="791.15" width="6.6" height="6.6" fill="#7f7f7f" stroke="#333" stroke-width="0.9"/>
<text x="672.1" y="798.1" class="lg">Z2</text>
<rect x="662.65" y="806.4" width="6.6" height="6.6" fill="#000000" stroke="#333" stroke-width="0.9"/>
<text x="672.1" y="813.35" class="lg">Z3</text>
<rect x="46.88" y="958.8" width="7.23" height="101.8" fill="#ffffff" stroke="#222" stroke-width="0.9"/>
<path d="M50.5 952.8V958.8M48.6 952.8H52.4" stroke="#505050" stroke-width="0.9" fill="none"/>
<text x="50.5" y="950.7" class="sl">b</text>
<rect x="55.02" y="950.3" width="7.23" height="110.3" fill="#bfbfbf" stroke="#222" stroke-width="0.9"/>
<path d="M58.63 946.6V950.3M56.73 946.6H60.53" stroke="#505050" stroke-width="0.9" fill="none"/>
<text x="58.63" y="942.4" class="sl">ab</text>
<rect x="63.15" y="939.3" width="7.23" height="121.3" fill="#7f7f7f" stroke="#222" stroke-width="0.9"/>
<path d="M66.77 934.6V939.3M64.87 934.6H68.67" stroke="#505050" stroke-width="0.9" fill="none"/>
<text x="66.77" y="930.9" class="sl">a</text>
<rect x="71.28" y="963.8" width="7.23" height="96.8" fill="#000000" stroke="#222" stroke-width="0.9"/>
<path d="M74.9 958.5V963.8M73 958.5H76.8" stroke="#505050" stroke-width="0.9" fill="none"/>
<text x="74.9" y="955.9" class="sl">b</text>
<rect x="97.06" y="950.6" width="7.23" height="110" fill="#ffffff" stroke="#222" stroke-width="0.9"/>
<path d="M100.67 944.2V950.6M98.77 944.2H102.57" stroke="#505050" stroke-width="0.9" fill="none"/>
<text x="100.67" y="943.1" class="sl">ab</text>
<rect x="105.19" y="949.3" width="7.23" height="111.3" fill="#bfbfbf" stroke="#222" stroke-width="0.9"/>
<path d="M108.81 945.1V949.3M106.91 945.1H110.71" stroke="#505050" stroke-width="0.9" fill="none"/>
<text x="108.81" y="941.4" class="sl">ab</text>
<rect x="113.33" y="958.8" width="7.23" height="101.8" fill="#7f7f7f" stroke="#222" stroke-width="0.9"/>
<path d="M116.94 953.4V958.8M115.04 953.4H118.84" stroke="#505050" stroke-width="0.9" fill="none"/>
<text x="116.94" y="949.8" class="sl">b</text>
<rect x="121.46" y="937.8" width="7.23" height="122.8" fill="#000000" stroke="#222" stroke-width="0.9"/>
<path d="M125.08 932.7V937.8M123.18 932.7H126.98" stroke="#505050" stroke-width="0.9" fill="none"/>
<text x="125.08" y="930.2" class="sl">a</text>
<rect x="147.23" y="946.6" width="7.23" height="114" fill="#ffffff" stroke="#222" stroke-width="0.9"/>
<path d="M150.85 941.1V946.6M148.95 941.1H152.75" stroke="#505050" stroke-width="0.9" fill="none"/>
<text x="150.85" y="939" class="sl">a</text>
<rect x="155.37" y="944.9" width="7.23" height="115.7" fill="#bfbfbf" stroke="#222" stroke-width="0.9"/>
<path d="M158.98 940.5V944.9M157.08 940.5H160.88" stroke="#505050" stroke-width="0.9" fill="none"/>
<text x="158.98" y="937" class="sl">a</text>
<rect x="163.5" y="963" width="7.23" height="97.6" fill="#7f7f7f" stroke="#222" stroke-width="0.9"/>
<path d="M167.12 958.2V963M165.22 958.2H169.02" stroke="#505050" stroke-width="0.9" fill="none"/>
<text x="167.12" y="955.4" class="sl">b</text>
<rect x="171.63" y="938.5" width="7.23" height="122.1" fill="#000000" stroke="#222" stroke-width="0.9"/>
<path d="M175.25 932.8V938.5M173.35 932.8H177.15" stroke="#505050" stroke-width="0.9" fill="none"/>
<text x="175.25" y="930" class="sl">a</text>
<rect x="197.41" y="979" width="7.23" height="81.6" fill="#ffffff" stroke="#222" stroke-width="0.9"/>
<path d="M201.02 973.3V979M199.12 973.3H202.92" stroke="#505050" stroke-width="0.9" fill="none"/>
<text x="201.02" y="970.9" class="sl">c</text>
<rect x="205.54" y="956" width="7.23" height="104.6" fill="#bfbfbf" stroke="#222" stroke-width="0.9"/>
<path d="M209.16 951.6V956M207.26 951.6H211.06" stroke="#505050" stroke-width="0.9" fill="none"/>
<text x="209.16" y="948.4" class="sl">b</text>
<rect x="213.67" y="961.9" width="7.23" height="98.7" fill="#7f7f7f" stroke="#222" stroke-width="0.9"/>
<path d="M217.29 957.1V961.9M215.39 957.1H219.19" stroke="#505050" stroke-width="0.9" fill="none"/>
<text x="217.29" y="953.9" class="sl">b</text>
<rect x="221.81" y="928.6" width="7.23" height="132" fill="#000000" stroke="#222" stroke-width="0.9"/>
<path d="M225.43 923.2V928.6M223.53 923.2H227.33" stroke="#505050" stroke-width="0.9" fill="none"/>
<text x="225.43" y="921.2" class="sl">a</text>
<rect x="247.58" y="942.2" width="7.23" height="118.4" fill="#ffffff" stroke="#222" stroke-width="0.9"/>
<path d="M251.2 935.2V942.2M249.3 935.2H253.1" stroke="#505050" stroke-width="0.9" fill="none"/>
<text x="251.2" y="933.1" class="sl">ab</text>
<rect x="255.72" y="932.4" width="7.23" height="128.2" fill="#bfbfbf" stroke="#222" stroke-width="0.9"/>
<path d="M259.33 927.6V932.4M257.43 927.6H261.23" stroke="#505050" stroke-width="0.9" fill="none"/>
<text x="259.33" y="924.3" class="sl">a</text>
<rect x="263.85" y="948.1" width="7.23" height="112.5" fill="#7f7f7f" stroke="#222" stroke-width="0.9"/>
<path d="M267.47 943.3V948.1M265.57 943.3H269.37" stroke="#505050" stroke-width="0.9" fill="none"/>
<text x="267.47" y="940.7" class="sl">b</text>
<rect x="271.98" y="938.5" width="7.23" height="122.1" fill="#000000" stroke="#222" stroke-width="0.9"/>
<path d="M275.6 932.4V938.5M273.7 932.4H277.5" stroke="#505050" stroke-width="0.9" fill="none"/>
<text x="275.6" y="930.4" class="sl">ab</text>
<path d="M38.1 904.8V1060.6H288.4" stroke="#111" stroke-width="1.6" fill="none"/>
<path d="M34.3 1060.6H38.1" stroke="#111" stroke-width="1.4"/>
<text x="31.5" y="1064" class="yt">0</text>
<path d="M34.3 1038.34H38.1" stroke="#111" stroke-width="1.4"/>
<text x="31.5" y="1041.74" class="yt">100</text>
<path d="M34.3 1016.09H38.1" stroke="#111" stroke-width="1.4"/>
<text x="31.5" y="1019.49" class="yt">200</text>
<path d="M34.3 993.83H38.1" stroke="#111" stroke-width="1.4"/>
<text x="31.5" y="997.23" class="yt">300</text>
<path d="M34.3 971.57H38.1" stroke="#111" stroke-width="1.4"/>
<text x="31.5" y="974.97" class="yt">400</text>
<path d="M34.3 949.31H38.1" stroke="#111" stroke-width="1.4"/>
<text x="31.5" y="952.71" class="yt">500</text>
<path d="M34.3 927.06H38.1" stroke="#111" stroke-width="1.4"/>
<text x="31.5" y="930.46" class="yt">600</text>
<path d="M34.3 904.8H38.1" stroke="#111" stroke-width="1.4"/>
<text x="31.5" y="908.2" class="yt">700</text>
<path d="M38.1 1060.6V1064.2" stroke="#111" stroke-width="1.4"/>
<path d="M88.16 1060.6V1064.2" stroke="#111" stroke-width="1.4"/>
<path d="M138.22 1060.6V1064.2" stroke="#111" stroke-width="1.4"/>
<path d="M188.28 1060.6V1064.2" stroke="#111" stroke-width="1.4"/>
<path d="M238.34 1060.6V1064.2" stroke="#111" stroke-width="1.4"/>
<path d="M288.4 1060.6V1064.2" stroke="#111" stroke-width="1.4"/>
<text x="63.13" y="1076.6" class="xt">2</text>
<text x="113.19" y="1076.6" class="xt">4</text>
<text x="163.25" y="1076.6" class="xt">6</text>
<text x="213.31" y="1076.6" class="xt">8</text>
<text x="263.37" y="1076.6" class="xt">10</text>
<text x="163.05" y="1092.7" class="xl">Duration of salt stress (d)</text>
<text transform="translate(9.6 983.5) rotate(-90)" class="yl">PAL activity (U g<tspan dy="-3.6" font-size="7">-1</tspan><tspan dy="3.5"> FW)</tspan></text>
<text x="54.9" y="914.5" class="pl">s</text>
<rect x="302.65" y="975.75" width="6.6" height="6.6" fill="#ffffff" stroke="#333" stroke-width="0.9"/>
<text x="313" y="982.7" class="lg">Q0</text>
<rect x="302.65" y="991" width="6.6" height="6.6" fill="#bfbfbf" stroke="#333" stroke-width="0.9"/>
<text x="313" y="997.95" class="lg">Q1</text>
<rect x="302.65" y="1006.25" width="6.6" height="6.6" fill="#7f7f7f" stroke="#333" stroke-width="0.9"/>
<text x="313" y="1013.2" class="lg">Q2</text>
<rect x="302.65" y="1021.5" width="6.6" height="6.6" fill="#000000" stroke="#333" stroke-width="0.9"/>
<text x="313" y="1028.45" class="lg">Q3</text>
<rect x="405.39" y="963.5" width="7.38" height="96.4" fill="#ffffff" stroke="#222" stroke-width="0.9"/>
<path d="M409.08 958.7V968.3M407.18 958.7H410.98" stroke="#808080" stroke-width="0.9" fill="none"/>
<path d="M407.18 968.3H410.98" stroke="#808080" stroke-width="0.9"/>
<text x="409.08" y="954.1" class="sl">b</text>
<rect x="413.67" y="955.3" width="7.38" height="104.6" fill="#bfbfbf" stroke="#222" stroke-width="0.9"/>
<path d="M417.36 948.5V962.1M415.46 948.5H419.26" stroke="#808080" stroke-width="0.9" fill="none"/>
<path d="M415.46 962.1H419.26" stroke="#808080" stroke-width="0.9"/>
<text x="417.36" y="947.7" class="sl">b</text>
<rect x="421.95" y="953" width="7.38" height="106.9" fill="#7f7f7f" stroke="#222" stroke-width="0.9"/>
<path d="M425.64 948.7V957.3M423.74 948.7H427.54" stroke="#808080" stroke-width="0.9" fill="none"/>
<path d="M423.74 957.3H427.54" stroke="#808080" stroke-width="0.9"/>
<text x="425.64" y="944.2" class="sl">b</text>
<rect x="430.23" y="932.5" width="7.38" height="127.4" fill="#000000" stroke="#222" stroke-width="0.9"/>
<path d="M433.92 924.1V940.9M432.02 924.1H435.82" stroke="#808080" stroke-width="0.9" fill="none"/>
<path d="M432.02 940.9H435.82" stroke="#808080" stroke-width="0.9"/>
<text x="433.92" y="921.9" class="sl">a</text>
<rect x="455.75" y="964.8" width="7.38" height="95.1" fill="#ffffff" stroke="#222" stroke-width="0.9"/>
<path d="M459.44 961V968.6M457.54 961H461.34" stroke="#808080" stroke-width="0.9" fill="none"/>
<path d="M457.54 968.6H461.34" stroke="#808080" stroke-width="0.9"/>
<text x="459.44" y="957" class="sl">a</text>
<rect x="464.03" y="970.5" width="7.38" height="89.4" fill="#bfbfbf" stroke="#222" stroke-width="0.9"/>
<path d="M467.72 960.8V980.2M465.82 960.8H469.62" stroke="#808080" stroke-width="0.9" fill="none"/>
<path d="M465.82 980.2H469.62" stroke="#808080" stroke-width="0.9"/>
<text x="467.72" y="963.4" class="sl">a</text>
<rect x="472.31" y="969.5" width="7.38" height="90.4" fill="#7f7f7f" stroke="#222" stroke-width="0.9"/>
<path d="M476 965V974M474.1 965H477.9" stroke="#808080" stroke-width="0.9" fill="none"/>
<path d="M474.1 974H477.9" stroke="#808080" stroke-width="0.9"/>
<text x="476" y="961.7" class="sl">a</text>
<rect x="480.59" y="973.9" width="7.38" height="86" fill="#000000" stroke="#222" stroke-width="0.9"/>
<path d="M484.28 965.6V982.2M482.38 965.6H486.18" stroke="#808080" stroke-width="0.9" fill="none"/>
<path d="M482.38 982.2H486.18" stroke="#808080" stroke-width="0.9"/>
<text x="484.28" y="962.6" class="sl">a</text>
<rect x="506.12" y="947.5" width="7.38" height="112.4" fill="#ffffff" stroke="#222" stroke-width="0.9"/>
<path d="M509.81 943.5V951.5M507.91 943.5H511.7" stroke="#808080" stroke-width="0.9" fill="none"/>
<path d="M507.91 951.5H511.7" stroke="#808080" stroke-width="0.9"/>
<text x="509.81" y="938.9" class="sl">ab</text>
<rect x="514.4" y="938" width="7.38" height="121.9" fill="#bfbfbf" stroke="#222" stroke-width="0.9"/>
<path d="M518.09 930.5V945.5M516.19 930.5H519.99" stroke="#808080" stroke-width="0.9" fill="none"/>
<path d="M516.19 945.5H519.99" stroke="#808080" stroke-width="0.9"/>
<text x="518.09" y="927.9" class="sl">a</text>
<rect x="522.68" y="960.4" width="7.38" height="99.5" fill="#7f7f7f" stroke="#222" stroke-width="0.9"/>
<path d="M526.37 955.4V965.4M524.47 955.4H528.26" stroke="#808080" stroke-width="0.9" fill="none"/>
<path d="M524.47 965.4H528.26" stroke="#808080" stroke-width="0.9"/>
<text x="526.37" y="951.1" class="sl">b</text>
<rect x="530.96" y="955.8" width="7.38" height="104.1" fill="#000000" stroke="#222" stroke-width="0.9"/>
<path d="M534.64 947.4V964.2M532.75 947.4H536.54" stroke="#808080" stroke-width="0.9" fill="none"/>
<path d="M532.75 964.2H536.54" stroke="#808080" stroke-width="0.9"/>
<text x="534.64" y="944.2" class="sl">ab</text>
<rect x="556.48" y="960.2" width="7.38" height="99.7" fill="#ffffff" stroke="#222" stroke-width="0.9"/>
<path d="M560.17 956.4V964M558.27 956.4H562.07" stroke="#808080" stroke-width="0.9" fill="none"/>
<path d="M558.27 964H562.07" stroke="#808080" stroke-width="0.9"/>
<text x="560.17" y="952.6" class="sl">a</text>
<rect x="564.76" y="960.2" width="7.38" height="99.7" fill="#bfbfbf" stroke="#222" stroke-width="0.9"/>
<path d="M568.45 952.9V967.5M566.55 952.9H570.35" stroke="#808080" stroke-width="0.9" fill="none"/>
<path d="M566.55 967.5H570.35" stroke="#808080" stroke-width="0.9"/>
<text x="568.45" y="952.6" class="sl">a</text>
<rect x="573.04" y="960.2" width="7.38" height="99.7" fill="#7f7f7f" stroke="#222" stroke-width="0.9"/>
<path d="M576.73 956.2V964.2M574.83 956.2H578.63" stroke="#808080" stroke-width="0.9" fill="none"/>
<path d="M574.83 964.2H578.63" stroke="#808080" stroke-width="0.9"/>
<text x="576.73" y="952.6" class="sl">a</text>
<rect x="581.32" y="956.5" width="7.38" height="103.4" fill="#000000" stroke="#222" stroke-width="0.9"/>
<path d="M585.01 948.1V964.9M583.11 948.1H586.91" stroke="#808080" stroke-width="0.9" fill="none"/>
<path d="M583.11 964.9H586.91" stroke="#808080" stroke-width="0.9"/>
<text x="585.01" y="945.2" class="sl">a</text>
<rect x="606.84" y="944" width="7.38" height="115.9" fill="#ffffff" stroke="#222" stroke-width="0.9"/>
<path d="M610.53 940V948M608.63 940H612.43" stroke="#808080" stroke-width="0.9" fill="none"/>
<path d="M608.63 948H612.43" stroke="#808080" stroke-width="0.9"/>
<text x="610.53" y="935.1" class="sl">b</text>
<rect x="615.12" y="931.3" width="7.38" height="128.6" fill="#bfbfbf" stroke="#222" stroke-width="0.9"/>
<path d="M618.81 924.2V938.4M616.91 924.2H620.71" stroke="#808080" stroke-width="0.9" fill="none"/>
<path d="M616.91 938.4H620.71" stroke="#808080" stroke-width="0.9"/>
<text x="618.81" y="923" class="sl">a</text>
<rect x="623.4" y="941.6" width="7.38" height="118.3" fill="#7f7f7f" stroke="#222" stroke-width="0.9"/>
<path d="M627.09 936.6V946.6M625.19 936.6H628.99" stroke="#808080" stroke-width="0.9" fill="none"/>
<path d="M625.19 946.6H628.99" stroke="#808080" stroke-width="0.9"/>
<text x="627.09" y="932.1" class="sl">b</text>
<rect x="631.68" y="929.5" width="7.38" height="130.4" fill="#000000" stroke="#222" stroke-width="0.9"/>
<path d="M635.37 920.8V938.2M633.47 920.8H637.27" stroke="#808080" stroke-width="0.9" fill="none"/>
<path d="M633.47 938.2H637.27" stroke="#808080" stroke-width="0.9"/>
<text x="635.37" y="918.8" class="sl">a</text>
<path d="M396.4 904.6V1059.9H648.2" stroke="#111" stroke-width="1.6" fill="none"/>
<path d="M392.6 1059.9H396.4" stroke="#111" stroke-width="1.4"/>
<text x="389.5" y="1063.3" class="yt">0</text>
<path d="M392.6 1042.64H396.4" stroke="#111" stroke-width="1.4"/>
<text x="389.5" y="1046.04" class="yt">100</text>
<path d="M392.6 1025.39H396.4" stroke="#111" stroke-width="1.4"/>
<text x="389.5" y="1028.79" class="yt">200</text>
<path d="M392.6 1008.13H396.4" stroke="#111" stroke-width="1.4"/>
<text x="389.5" y="1011.53" class="yt">300</text>
<path d="M392.6 990.88H396.4" stroke="#111" stroke-width="1.4"/>
<text x="389.5" y="994.28" class="yt">400</text>
<path d="M392.6 973.62H396.4" stroke="#111" stroke-width="1.4"/>
<text x="389.5" y="977.02" class="yt">500</text>
<path d="M392.6 956.37H396.4" stroke="#111" stroke-width="1.4"/>
<text x="389.5" y="959.77" class="yt">600</text>
<path d="M392.6 939.11H396.4" stroke="#111" stroke-width="1.4"/>
<text x="389.5" y="942.51" class="yt">700</text>
<path d="M392.6 921.86H396.4" stroke="#111" stroke-width="1.4"/>
<text x="389.5" y="925.26" class="yt">800</text>
<path d="M392.6 904.6H396.4" stroke="#111" stroke-width="1.4"/>
<text x="389.5" y="908" class="yt">900</text>
<path d="M396.4 1059.9V1063.5" stroke="#111" stroke-width="1.4"/>
<path d="M446.76 1059.9V1063.5" stroke="#111" stroke-width="1.4"/>
<path d="M497.12 1059.9V1063.5" stroke="#111" stroke-width="1.4"/>
<path d="M547.48 1059.9V1063.5" stroke="#111" stroke-width="1.4"/>
<path d="M597.84 1059.9V1063.5" stroke="#111" stroke-width="1.4"/>
<path d="M648.2 1059.9V1063.5" stroke="#111" stroke-width="1.4"/>
<text x="421.58" y="1075.9" class="xt">2</text>
<text x="471.94" y="1075.9" class="xt">4</text>
<text x="522.3" y="1075.9" class="xt">6</text>
<text x="572.66" y="1075.9" class="xt">8</text>
<text x="623.02" y="1075.9" class="xt">10</text>
<text x="522" y="1091.1" class="xl">Duration of salt stress (d)</text>
<text transform="translate(368.2 983.05) rotate(-90)" class="yl">PAL activity (U g<tspan dy="-3.6" font-size="7">-1</tspan><tspan dy="3.5"> FW)</tspan></text>
<text x="412.2" y="913.9" class="pl">t</text>
<rect x="662.65" y="975.75" width="6.6" height="6.6" fill="#ffffff" stroke="#333" stroke-width="0.9"/>
<text x="672.1" y="982.7" class="lg">Z0</text>
<rect x="662.65" y="991" width="6.6" height="6.6" fill="#bfbfbf" stroke="#333" stroke-width="0.9"/>
<text x="672.1" y="997.95" class="lg">Z1</text>
<rect x="662.65" y="1006.25" width="6.6" height="6.6" fill="#7f7f7f" stroke="#333" stroke-width="0.9"/>
<text x="672.1" y="1013.2" class="lg">Z2</text>
<rect x="662.65" y="1021.5" width="6.6" height="6.6" fill="#000000" stroke="#333" stroke-width="0.9"/>
<text x="672.1" y="1028.45" class="lg">Z3</text>
</svg></body></html>
